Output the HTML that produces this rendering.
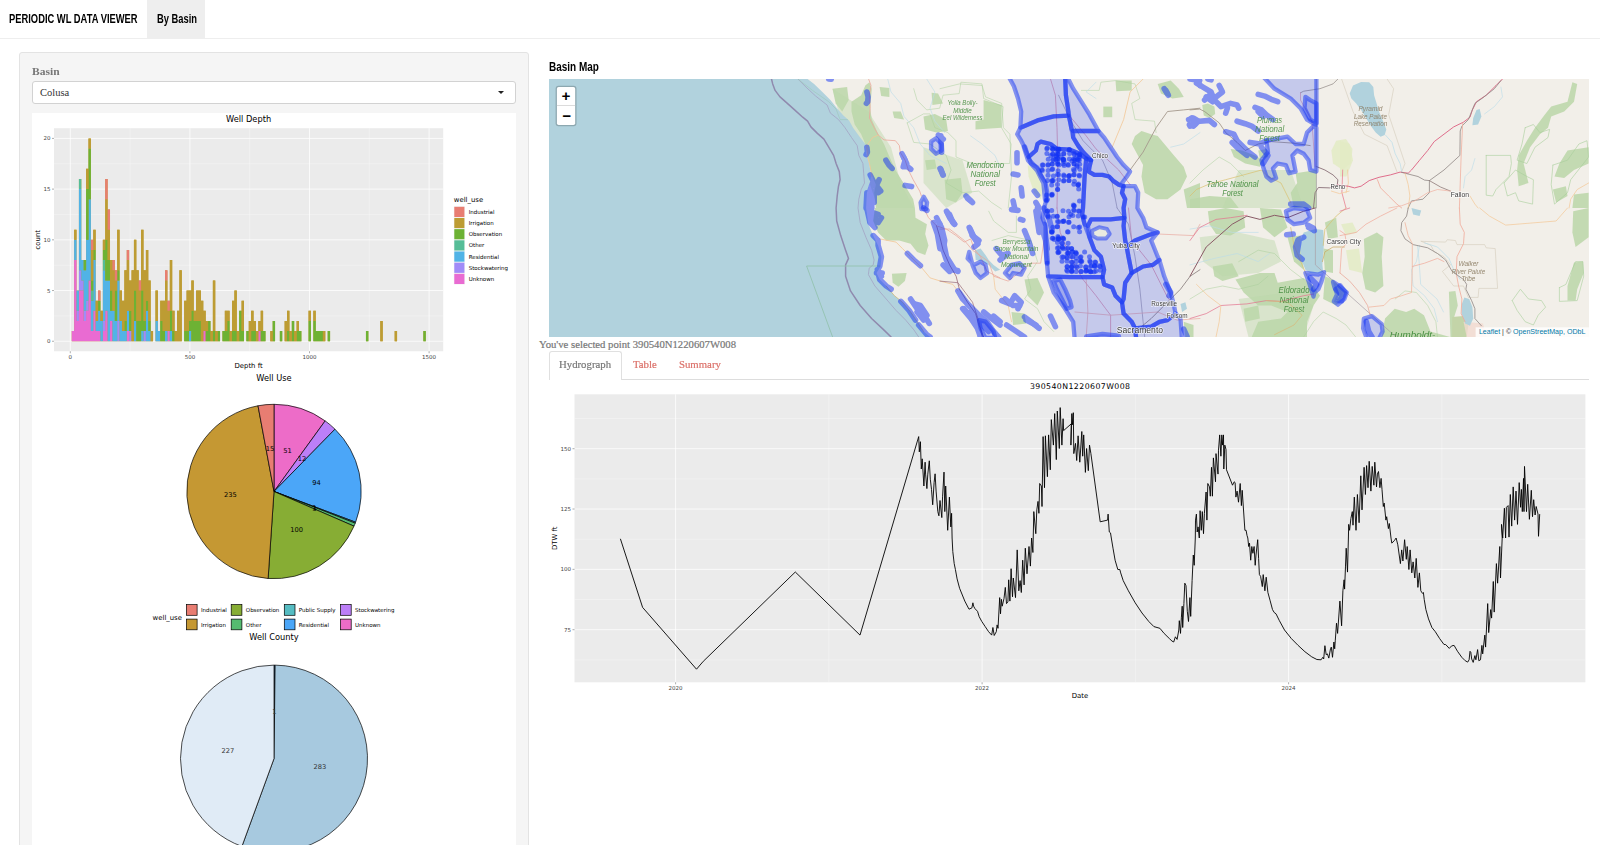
<!DOCTYPE html>
<html lang="en">
<head>
<meta charset="utf-8">
<title>Periodic WL Data Viewer</title>
<style>
html,body{margin:0;padding:0;}
body{width:1600px;height:845px;overflow:hidden;background:#fff;position:relative;
  font-family:"Liberation Serif",Georgia,serif;font-size:10px;color:#777;}
.abs{position:absolute;}
.cond{font-family:"Liberation Sans",Arial,sans-serif;font-weight:bold;color:#000;white-space:nowrap;transform-origin:0 50%;}
#navbar{left:0;top:0;width:1600px;height:38px;background:#fff;border-bottom:1px solid #eee;}
#navactive{left:147px;top:0;width:58px;height:38px;background:#eee;}
#brand{left:9px;top:11.4px;font-size:12px;line-height:16px;transform:scaleX(.78);}
#navlink{left:156.5px;top:11.4px;font-size:12px;line-height:16px;transform:scaleX(.78);}
#well{left:19px;top:52px;width:508px;height:820px;background:#f5f5f5;border:1px solid #e3e3e3;border-radius:3px;}
#lbl{left:32px;top:66px;font-weight:bold;font-size:10.5px;line-height:12px;color:#777;transform:scaleX(1.1);transform-origin:0 50%;}
#sel{left:32px;top:81px;width:482px;height:21px;background:#fff;border:1px solid #d2d2d2;border-radius:3px;}
#selv{left:40px;top:87px;font-size:10.5px;line-height:12px;color:#333;}
#caret{left:498px;top:91px;width:0;height:0;border-left:3px solid transparent;border-right:3px solid transparent;border-top:3px solid #222;}
#lplot{left:32px;top:113px;width:484px;height:732px;background:#fff;}
#h4{left:549px;top:58.6px;font-size:12px;line-height:16px;transform:scaleX(.83);}
#map{left:549px;top:79px;width:1040px;height:258px;background:#b2d2dd;overflow:hidden;}
#seltxt{left:539px;top:337.7px;font-size:10.7px;-webkit-text-stroke:0.2px #777;line-height:12px;color:#777;white-space:nowrap;}
#tabline{left:549px;top:379px;width:1040px;height:1px;background:#ddd;}
#tab1{left:549px;top:351px;width:73px;height:29px;border:1px solid #e0e0e0;border-bottom:none;border-radius:3px 3px 0 0;background:#fff;box-sizing:border-box;}
.tabt{font-size:11.4px;line-height:12px;white-space:nowrap;-webkit-text-stroke:0.2px currentColor;transform:scaleX(.945);transform-origin:0 50%;}
#rplot{left:549px;top:380px;width:1040px;height:330px;background:#fff;}
</style>
</head>
<body>
<div id="navbar" class="abs"></div>
<div id="navactive" class="abs"></div>
<div id="brand" class="abs cond">PERIODIC WL DATA VIEWER</div>
<div id="navlink" class="abs cond">By Basin</div>

<div id="well" class="abs"></div>
<div id="lbl" class="abs">Basin</div>
<div id="sel" class="abs"></div>
<div id="selv" class="abs">Colusa</div>
<div id="caret" class="abs"></div>
<div id="lplot" class="abs">
<svg width="484" height="732" viewBox="32 113 484 732" style="display:block" font-family="DejaVu Sans, Liberation Sans, sans-serif">
<rect x="32" y="113" width="484" height="732" fill="#fff"/>
<rect x="54.00" y="128.20" width="389.20" height="223.05" fill="#ebebeb"/>
<line x1="54.00" x2="443.20" y1="315.89" y2="315.89" stroke="#fff" stroke-opacity="0.75" stroke-width="0.4"/>
<line x1="54.00" x2="443.20" y1="265.19" y2="265.19" stroke="#fff" stroke-opacity="0.75" stroke-width="0.4"/>
<line x1="54.00" x2="443.20" y1="214.48" y2="214.48" stroke="#fff" stroke-opacity="0.75" stroke-width="0.4"/>
<line x1="54.00" x2="443.20" y1="163.77" y2="163.77" stroke="#fff" stroke-opacity="0.75" stroke-width="0.4"/>
<line x1="130.10" x2="130.10" y1="128.20" y2="351.25" stroke="#fff" stroke-opacity="0.75" stroke-width="0.4"/>
<line x1="249.70" x2="249.70" y1="128.20" y2="351.25" stroke="#fff" stroke-opacity="0.75" stroke-width="0.4"/>
<line x1="369.30" x2="369.30" y1="128.20" y2="351.25" stroke="#fff" stroke-opacity="0.75" stroke-width="0.4"/>
<line x1="54.00" x2="443.20" y1="341.25" y2="341.25" stroke="#fff" stroke-width="0.75"/>
<line x1="52.00" x2="54.00" y1="341.25" y2="341.25" stroke="#333" stroke-width="0.4"/>
<text x="50.60" y="343.25" font-size="5.50" text-anchor="end" fill="#444444" >0</text>
<line x1="54.00" x2="443.20" y1="290.54" y2="290.54" stroke="#fff" stroke-width="0.75"/>
<line x1="52.00" x2="54.00" y1="290.54" y2="290.54" stroke="#333" stroke-width="0.4"/>
<text x="50.60" y="292.54" font-size="5.50" text-anchor="end" fill="#444444" >5</text>
<line x1="54.00" x2="443.20" y1="239.83" y2="239.83" stroke="#fff" stroke-width="0.75"/>
<line x1="52.00" x2="54.00" y1="239.83" y2="239.83" stroke="#333" stroke-width="0.4"/>
<text x="50.60" y="241.83" font-size="5.50" text-anchor="end" fill="#444444" >10</text>
<line x1="54.00" x2="443.20" y1="189.12" y2="189.12" stroke="#fff" stroke-width="0.75"/>
<line x1="52.00" x2="54.00" y1="189.12" y2="189.12" stroke="#333" stroke-width="0.4"/>
<text x="50.60" y="191.12" font-size="5.50" text-anchor="end" fill="#444444" >15</text>
<line x1="54.00" x2="443.20" y1="138.41" y2="138.41" stroke="#fff" stroke-width="0.75"/>
<line x1="52.00" x2="54.00" y1="138.41" y2="138.41" stroke="#333" stroke-width="0.4"/>
<text x="50.60" y="140.41" font-size="5.50" text-anchor="end" fill="#444444" >20</text>
<line x1="70.30" x2="70.30" y1="128.20" y2="351.25" stroke="#fff" stroke-width="0.75"/>
<line x1="70.30" x2="70.30" y1="351.25" y2="353.25" stroke="#333" stroke-width="0.4"/>
<text x="70.30" y="358.95" font-size="5.50" text-anchor="middle" fill="#444444" >0</text>
<line x1="189.90" x2="189.90" y1="128.20" y2="351.25" stroke="#fff" stroke-width="0.75"/>
<line x1="189.90" x2="189.90" y1="351.25" y2="353.25" stroke="#333" stroke-width="0.4"/>
<text x="189.90" y="358.95" font-size="5.50" text-anchor="middle" fill="#444444" >500</text>
<line x1="309.50" x2="309.50" y1="128.20" y2="351.25" stroke="#fff" stroke-width="0.75"/>
<line x1="309.50" x2="309.50" y1="351.25" y2="353.25" stroke="#333" stroke-width="0.4"/>
<text x="309.50" y="358.95" font-size="5.50" text-anchor="middle" fill="#444444" >1000</text>
<line x1="429.10" x2="429.10" y1="128.20" y2="351.25" stroke="#fff" stroke-width="0.75"/>
<line x1="429.10" x2="429.10" y1="351.25" y2="353.25" stroke="#333" stroke-width="0.4"/>
<text x="429.10" y="358.95" font-size="5.50" text-anchor="middle" fill="#444444" >1500</text>
<path d="M71.75 331.11h2.39v10.14h-2.39zM74.14 229.69h2.39v111.56h-2.39zM76.53 290.54h2.39v50.71h-2.39zM78.92 178.98h2.39v162.27h-2.39zM81.31 260.11h2.39v81.14h-2.39zM83.71 260.11h2.39v81.14h-2.39zM86.10 168.84h2.39v172.41h-2.39zM88.49 138.41h2.39v202.84h-2.39zM90.88 239.83h2.39v101.42h-2.39zM93.27 229.69h2.39v111.56h-2.39zM95.67 300.68h2.39v40.57h-2.39zM98.06 290.54h2.39v50.71h-2.39zM100.45 310.82h2.39v30.43h-2.39zM102.84 239.83h2.39v101.42h-2.39zM105.23 178.98h2.39v162.27h-2.39zM107.63 209.40h2.39v131.85h-2.39zM110.02 260.11h2.39v81.14h-2.39zM112.41 260.11h2.39v81.14h-2.39zM114.80 270.26h2.39v70.99h-2.39zM117.19 229.69h2.39v111.56h-2.39zM119.59 290.54h2.39v50.71h-2.39zM121.98 300.68h2.39v40.57h-2.39zM124.37 270.26h2.39v70.99h-2.39zM126.76 249.97h2.39v91.28h-2.39zM129.15 280.40h2.39v60.85h-2.39zM131.55 270.26h2.39v70.99h-2.39zM133.94 239.83h2.39v101.42h-2.39zM136.33 270.26h2.39v70.99h-2.39zM138.72 280.40h2.39v60.85h-2.39zM141.11 229.69h2.39v111.56h-2.39zM143.51 270.26h2.39v70.99h-2.39zM145.90 249.97h2.39v91.28h-2.39zM148.29 280.40h2.39v60.85h-2.39zM150.68 331.11h2.39v10.14h-2.39zM155.47 290.54h2.39v50.71h-2.39zM157.86 331.11h2.39v10.14h-2.39zM160.25 300.68h2.39v40.57h-2.39zM162.64 300.68h2.39v40.57h-2.39zM165.03 270.26h2.39v70.99h-2.39zM167.43 300.68h2.39v40.57h-2.39zM169.82 260.11h2.39v81.14h-2.39zM172.21 310.82h2.39v30.43h-2.39zM174.60 331.11h2.39v10.14h-2.39zM176.99 310.82h2.39v30.43h-2.39zM179.39 270.26h2.39v70.99h-2.39zM184.17 300.68h2.39v40.57h-2.39zM186.56 290.54h2.39v50.71h-2.39zM188.95 290.54h2.39v50.71h-2.39zM191.35 280.40h2.39v60.85h-2.39zM193.74 310.82h2.39v30.43h-2.39zM196.13 290.54h2.39v50.71h-2.39zM198.52 290.54h2.39v50.71h-2.39zM200.91 300.68h2.39v40.57h-2.39zM203.31 310.82h2.39v30.43h-2.39zM205.70 320.97h2.39v20.28h-2.39zM208.09 320.97h2.39v20.28h-2.39zM210.48 331.11h2.39v10.14h-2.39zM212.87 280.40h2.39v60.85h-2.39zM215.27 331.11h2.39v10.14h-2.39zM217.66 331.11h2.39v10.14h-2.39zM222.44 331.11h2.39v10.14h-2.39zM224.83 310.82h2.39v30.43h-2.39zM227.23 310.82h2.39v30.43h-2.39zM229.62 331.11h2.39v10.14h-2.39zM232.01 300.68h2.39v40.57h-2.39zM234.40 290.54h2.39v50.71h-2.39zM236.79 331.11h2.39v10.14h-2.39zM239.19 310.82h2.39v30.43h-2.39zM241.58 300.68h2.39v40.57h-2.39zM246.36 331.11h2.39v10.14h-2.39zM248.75 320.97h2.39v20.28h-2.39zM251.15 310.82h2.39v30.43h-2.39zM253.54 320.97h2.39v20.28h-2.39zM255.93 331.11h2.39v10.14h-2.39zM258.32 320.97h2.39v20.28h-2.39zM260.71 310.82h2.39v30.43h-2.39zM263.11 331.11h2.39v10.14h-2.39zM270.28 331.11h2.39v10.14h-2.39zM272.67 320.97h2.39v20.28h-2.39zM279.85 331.11h2.39v10.14h-2.39zM284.63 320.97h2.39v20.28h-2.39zM287.03 310.82h2.39v30.43h-2.39zM289.42 331.11h2.39v10.14h-2.39zM291.81 320.97h2.39v20.28h-2.39zM294.20 331.11h2.39v10.14h-2.39zM296.59 320.97h2.39v20.28h-2.39zM298.99 331.11h2.39v10.14h-2.39zM308.55 310.82h2.39v30.43h-2.39zM313.34 310.82h2.39v30.43h-2.39zM315.73 331.11h2.39v10.14h-2.39zM318.12 331.11h2.39v10.14h-2.39zM320.51 331.11h2.39v10.14h-2.39zM322.91 331.11h2.39v10.14h-2.39zM327.69 331.11h2.39v10.14h-2.39zM365.96 331.11h2.39v10.14h-2.39zM380.31 320.97h2.39v20.28h-2.39zM394.67 331.11h2.39v10.14h-2.39zM423.37 331.11h2.39v10.14h-2.39z" fill="#bd9c33"/>
<path d="M71.75 331.11h2.39v10.14h-2.39zM74.14 260.11h2.39v81.14h-2.39zM76.53 320.97h2.39v20.28h-2.39zM78.92 290.54h2.39v50.71h-2.39zM81.31 290.54h2.39v50.71h-2.39zM83.71 320.97h2.39v20.28h-2.39zM86.10 310.82h2.39v30.43h-2.39zM88.49 280.40h2.39v60.85h-2.39zM90.88 331.11h2.39v10.14h-2.39zM93.27 310.82h2.39v30.43h-2.39zM95.67 331.11h2.39v10.14h-2.39zM98.06 331.11h2.39v10.14h-2.39zM102.84 331.11h2.39v10.14h-2.39zM105.23 310.82h2.39v30.43h-2.39zM110.02 320.97h2.39v20.28h-2.39zM126.76 331.11h2.39v10.14h-2.39zM167.43 331.11h2.39v10.14h-2.39zM203.31 331.11h2.39v10.14h-2.39zM258.32 331.11h2.39v10.14h-2.39z" fill="#e96bd2"/>
<path d="M76.53 310.82h2.39v10.14h-2.39zM78.92 270.26h2.39v20.28h-2.39zM81.31 280.40h2.39v10.14h-2.39zM83.71 310.82h2.39v10.14h-2.39zM86.10 300.68h2.39v10.14h-2.39zM102.84 320.97h2.39v10.14h-2.39zM117.19 320.97h2.39v20.28h-2.39zM129.15 331.11h2.39v10.14h-2.39zM143.51 331.11h2.39v10.14h-2.39z" fill="#a18bf8"/>
<path d="M74.14 239.83h2.39v20.28h-2.39zM76.53 290.54h2.39v20.28h-2.39zM78.92 189.12h2.39v81.14h-2.39zM81.31 260.11h2.39v20.28h-2.39zM83.71 270.26h2.39v40.57h-2.39zM86.10 239.83h2.39v60.85h-2.39zM88.49 199.26h2.39v81.14h-2.39zM90.88 300.68h2.39v30.43h-2.39zM93.27 260.11h2.39v50.71h-2.39zM95.67 320.97h2.39v10.14h-2.39zM98.06 310.82h2.39v20.28h-2.39zM100.45 320.97h2.39v20.28h-2.39zM102.84 270.26h2.39v50.71h-2.39zM105.23 280.40h2.39v30.43h-2.39zM107.63 280.40h2.39v60.85h-2.39zM110.02 310.82h2.39v10.14h-2.39zM112.41 310.82h2.39v30.43h-2.39zM114.80 320.97h2.39v20.28h-2.39zM117.19 280.40h2.39v40.57h-2.39zM119.59 320.97h2.39v20.28h-2.39zM121.98 331.11h2.39v10.14h-2.39zM124.37 331.11h2.39v10.14h-2.39zM126.76 310.82h2.39v20.28h-2.39zM133.94 320.97h2.39v20.28h-2.39zM141.11 331.11h2.39v10.14h-2.39zM145.90 310.82h2.39v30.43h-2.39zM148.29 331.11h2.39v10.14h-2.39zM155.47 320.97h2.39v20.28h-2.39zM157.86 331.11h2.39v10.14h-2.39zM165.03 331.11h2.39v10.14h-2.39zM169.82 331.11h2.39v10.14h-2.39zM188.95 331.11h2.39v10.14h-2.39z" fill="#51b3e6"/>
<path d="M78.92 178.98h2.39v10.14h-2.39zM90.88 290.54h2.39v10.14h-2.39zM102.84 260.11h2.39v10.14h-2.39z" fill="#56bd97"/>
<path d="M83.71 260.11h2.39v10.14h-2.39zM86.10 189.12h2.39v50.71h-2.39zM88.49 148.55h2.39v50.71h-2.39zM90.88 280.40h2.39v10.14h-2.39zM93.27 249.97h2.39v10.14h-2.39zM98.06 300.68h2.39v10.14h-2.39zM102.84 249.97h2.39v10.14h-2.39zM105.23 239.83h2.39v40.57h-2.39zM107.63 260.11h2.39v20.28h-2.39zM110.02 290.54h2.39v20.28h-2.39zM114.80 290.54h2.39v30.43h-2.39zM117.19 270.26h2.39v10.14h-2.39zM124.37 320.97h2.39v10.14h-2.39zM129.15 310.82h2.39v20.28h-2.39zM133.94 290.54h2.39v30.43h-2.39zM136.33 320.97h2.39v20.28h-2.39zM138.72 320.97h2.39v20.28h-2.39zM141.11 290.54h2.39v40.57h-2.39zM143.51 320.97h2.39v10.14h-2.39zM145.90 300.68h2.39v10.14h-2.39zM148.29 320.97h2.39v10.14h-2.39zM160.25 320.97h2.39v20.28h-2.39zM162.64 331.11h2.39v10.14h-2.39zM169.82 310.82h2.39v20.28h-2.39zM172.21 331.11h2.39v10.14h-2.39zM184.17 331.11h2.39v10.14h-2.39zM186.56 331.11h2.39v10.14h-2.39zM188.95 320.97h2.39v10.14h-2.39zM191.35 310.82h2.39v30.43h-2.39zM193.74 320.97h2.39v20.28h-2.39zM196.13 320.97h2.39v20.28h-2.39zM198.52 320.97h2.39v20.28h-2.39zM205.70 331.11h2.39v10.14h-2.39zM208.09 320.97h2.39v20.28h-2.39zM212.87 331.11h2.39v10.14h-2.39zM217.66 331.11h2.39v10.14h-2.39zM222.44 331.11h2.39v10.14h-2.39zM224.83 331.11h2.39v10.14h-2.39zM227.23 320.97h2.39v20.28h-2.39zM232.01 331.11h2.39v10.14h-2.39zM234.40 331.11h2.39v10.14h-2.39zM239.19 310.82h2.39v30.43h-2.39zM241.58 331.11h2.39v10.14h-2.39zM246.36 331.11h2.39v10.14h-2.39zM251.15 331.11h2.39v10.14h-2.39zM253.54 331.11h2.39v10.14h-2.39zM260.71 331.11h2.39v10.14h-2.39zM263.11 331.11h2.39v10.14h-2.39zM272.67 320.97h2.39v20.28h-2.39zM279.85 331.11h2.39v10.14h-2.39zM287.03 331.11h2.39v10.14h-2.39zM291.81 320.97h2.39v20.28h-2.39zM296.59 331.11h2.39v10.14h-2.39zM298.99 331.11h2.39v10.14h-2.39zM308.55 320.97h2.39v20.28h-2.39zM313.34 320.97h2.39v20.28h-2.39zM315.73 331.11h2.39v10.14h-2.39zM318.12 331.11h2.39v10.14h-2.39zM320.51 331.11h2.39v10.14h-2.39zM327.69 331.11h2.39v10.14h-2.39zM365.96 331.11h2.39v10.14h-2.39zM423.37 331.11h2.39v10.14h-2.39z" fill="#6db234"/>
<path d="M74.14 229.69h2.39v10.14h-2.39zM86.10 168.84h2.39v20.28h-2.39zM88.49 138.41h2.39v10.14h-2.39zM90.88 249.97h2.39v30.43h-2.39zM93.27 229.69h2.39v20.28h-2.39zM95.67 300.68h2.39v20.28h-2.39zM100.45 310.82h2.39v10.14h-2.39zM102.84 239.83h2.39v10.14h-2.39zM105.23 199.26h2.39v40.57h-2.39zM107.63 229.69h2.39v30.43h-2.39zM110.02 260.11h2.39v30.43h-2.39zM112.41 270.26h2.39v40.57h-2.39zM114.80 280.40h2.39v10.14h-2.39zM117.19 229.69h2.39v40.57h-2.39zM119.59 290.54h2.39v30.43h-2.39zM121.98 300.68h2.39v30.43h-2.39zM124.37 270.26h2.39v50.71h-2.39zM126.76 260.11h2.39v50.71h-2.39zM129.15 280.40h2.39v30.43h-2.39zM131.55 270.26h2.39v70.99h-2.39zM133.94 239.83h2.39v50.71h-2.39zM136.33 270.26h2.39v50.71h-2.39zM138.72 290.54h2.39v30.43h-2.39zM141.11 229.69h2.39v60.85h-2.39zM143.51 270.26h2.39v50.71h-2.39zM145.90 249.97h2.39v50.71h-2.39zM148.29 280.40h2.39v40.57h-2.39zM150.68 331.11h2.39v10.14h-2.39zM155.47 290.54h2.39v30.43h-2.39zM160.25 300.68h2.39v20.28h-2.39zM162.64 300.68h2.39v30.43h-2.39zM165.03 280.40h2.39v50.71h-2.39zM167.43 310.82h2.39v20.28h-2.39zM169.82 260.11h2.39v50.71h-2.39zM172.21 310.82h2.39v20.28h-2.39zM174.60 331.11h2.39v10.14h-2.39zM176.99 310.82h2.39v30.43h-2.39zM179.39 270.26h2.39v70.99h-2.39zM184.17 300.68h2.39v30.43h-2.39zM186.56 290.54h2.39v40.57h-2.39zM188.95 290.54h2.39v30.43h-2.39zM191.35 280.40h2.39v30.43h-2.39zM193.74 310.82h2.39v10.14h-2.39zM196.13 290.54h2.39v30.43h-2.39zM198.52 290.54h2.39v30.43h-2.39zM200.91 300.68h2.39v40.57h-2.39zM203.31 310.82h2.39v20.28h-2.39zM205.70 320.97h2.39v10.14h-2.39zM210.48 331.11h2.39v10.14h-2.39zM212.87 280.40h2.39v50.71h-2.39zM215.27 331.11h2.39v10.14h-2.39zM224.83 310.82h2.39v20.28h-2.39zM227.23 310.82h2.39v10.14h-2.39zM229.62 331.11h2.39v10.14h-2.39zM232.01 300.68h2.39v30.43h-2.39zM234.40 290.54h2.39v40.57h-2.39zM236.79 331.11h2.39v10.14h-2.39zM241.58 300.68h2.39v30.43h-2.39zM248.75 320.97h2.39v20.28h-2.39zM251.15 310.82h2.39v20.28h-2.39zM253.54 320.97h2.39v10.14h-2.39zM255.93 331.11h2.39v10.14h-2.39zM258.32 320.97h2.39v10.14h-2.39zM260.71 310.82h2.39v20.28h-2.39zM270.28 331.11h2.39v10.14h-2.39zM284.63 320.97h2.39v20.28h-2.39zM287.03 310.82h2.39v20.28h-2.39zM289.42 331.11h2.39v10.14h-2.39zM294.20 331.11h2.39v10.14h-2.39zM296.59 320.97h2.39v10.14h-2.39zM308.55 310.82h2.39v10.14h-2.39zM313.34 310.82h2.39v10.14h-2.39zM322.91 331.11h2.39v10.14h-2.39zM380.31 320.97h2.39v20.28h-2.39zM394.67 331.11h2.39v10.14h-2.39z" fill="#bd9c33"/>
<path d="M90.88 239.83h2.39v10.14h-2.39zM98.06 290.54h2.39v10.14h-2.39zM105.23 178.98h2.39v20.28h-2.39zM107.63 209.40h2.39v20.28h-2.39zM112.41 260.11h2.39v10.14h-2.39zM114.80 270.26h2.39v10.14h-2.39zM126.76 249.97h2.39v10.14h-2.39zM138.72 280.40h2.39v10.14h-2.39zM165.03 270.26h2.39v10.14h-2.39zM167.43 300.68h2.39v10.14h-2.39z" fill="#e87d72"/>
<text x="248.60" y="122.30" font-size="8.25" text-anchor="middle" fill="#000" >Well Depth</text>
<text x="248.60" y="367.60" font-size="6.90" text-anchor="middle" fill="#000" >Depth ft</text>
<text transform="translate(40.4 239.7) rotate(-90)" font-size="6.9" text-anchor="middle" fill="#000">count</text>
<text x="453.80" y="202.20" font-size="6.90" text-anchor="start" fill="#000" >well_use</text>
<rect x="453.8" y="206.30" width="11.1" height="11.17" fill="#f2f2f2"/>
<rect x="454.3" y="206.80" width="10.1" height="10.2" fill="#e87d72"/>
<text x="468.70" y="213.90" font-size="5.50" text-anchor="start" fill="#000" >Industrial</text>
<rect x="453.8" y="217.47" width="11.1" height="11.17" fill="#f2f2f2"/>
<rect x="454.3" y="217.97" width="10.1" height="10.2" fill="#bd9c33"/>
<text x="468.70" y="225.07" font-size="5.50" text-anchor="start" fill="#000" >Irrigation</text>
<rect x="453.8" y="228.64" width="11.1" height="11.17" fill="#f2f2f2"/>
<rect x="454.3" y="229.14" width="10.1" height="10.2" fill="#6db234"/>
<text x="468.70" y="236.24" font-size="5.50" text-anchor="start" fill="#000" >Observation</text>
<rect x="453.8" y="239.81" width="11.1" height="11.17" fill="#f2f2f2"/>
<rect x="454.3" y="240.31" width="10.1" height="10.2" fill="#56bd97"/>
<text x="468.70" y="247.41" font-size="5.50" text-anchor="start" fill="#000" >Other</text>
<rect x="453.8" y="250.98" width="11.1" height="11.17" fill="#f2f2f2"/>
<rect x="454.3" y="251.48" width="10.1" height="10.2" fill="#51b3e6"/>
<text x="468.70" y="258.58" font-size="5.50" text-anchor="start" fill="#000" >Residential</text>
<rect x="453.8" y="262.15" width="11.1" height="11.17" fill="#f2f2f2"/>
<rect x="454.3" y="262.65" width="10.1" height="10.2" fill="#a18bf8"/>
<text x="468.70" y="269.75" font-size="5.50" text-anchor="start" fill="#000" >Stockwatering</text>
<rect x="453.8" y="273.32" width="11.1" height="11.17" fill="#f2f2f2"/>
<rect x="454.3" y="273.82" width="10.1" height="10.2" fill="#e96bd2"/>
<text x="468.70" y="280.92" font-size="5.50" text-anchor="start" fill="#000" >Unknown</text>
<text x="274.00" y="380.90" font-size="8.25" text-anchor="middle" fill="#000" >Well Use</text>
<path d="M274.00 491.50 L274.00 404.30 A87.20 87.20 0 0 1 325.17 420.89 Z" fill="#ed6cc8" stroke="#000" stroke-width="0.7" stroke-linejoin="round"/>
<path d="M274.00 491.50 L325.17 420.89 A87.20 87.20 0 0 1 334.99 429.18 Z" fill="#bc7ff8" stroke="#000" stroke-width="0.7" stroke-linejoin="round"/>
<path d="M274.00 491.50 L334.99 429.18 A87.20 87.20 0 0 1 355.62 522.19 Z" fill="#4ba6f8" stroke="#000" stroke-width="0.7" stroke-linejoin="round"/>
<path d="M274.00 491.50 L355.62 522.19 A87.20 87.20 0 0 1 355.24 523.19 Z" fill="#56bcc2" stroke="#000" stroke-width="0.7" stroke-linejoin="round"/>
<path d="M274.00 491.50 L355.24 523.19 A87.20 87.20 0 0 1 354.01 526.17 Z" fill="#55bb70" stroke="#000" stroke-width="0.7" stroke-linejoin="round"/>
<path d="M274.00 491.50 L354.01 526.17 A87.20 87.20 0 0 1 268.11 578.50 Z" fill="#87ad34" stroke="#000" stroke-width="0.7" stroke-linejoin="round"/>
<path d="M274.00 491.50 L268.11 578.50 A87.20 87.20 0 0 1 258.01 405.78 Z" fill="#c59833" stroke="#000" stroke-width="0.7" stroke-linejoin="round"/>
<path d="M274.00 491.50 L258.01 405.78 A87.20 87.20 0 0 1 274.00 404.30 Z" fill="#e87d72" stroke="#000" stroke-width="0.7" stroke-linejoin="round"/>
<text x="287.45" y="453.23" font-size="6.70" text-anchor="middle" fill="#000" >51</text>
<text x="302.12" y="461.38" font-size="6.70" text-anchor="middle" fill="#000" >12</text>
<text x="316.57" y="485.26" font-size="6.70" text-anchor="middle" fill="#000" >94</text>
<text x="314.72" y="510.30" font-size="6.70" text-anchor="middle" fill="#000" >1</text>
<text x="314.32" y="511.29" font-size="6.70" text-anchor="middle" fill="#000" >3</text>
<text x="296.68" y="531.93" font-size="6.70" text-anchor="middle" fill="#000" >100</text>
<text x="230.47" y="497.25" font-size="6.70" text-anchor="middle" fill="#000" >235</text>
<text x="269.98" y="451.29" font-size="6.70" text-anchor="middle" fill="#000" >15</text>
<text x="152.60" y="620.30" font-size="6.90" text-anchor="start" fill="#000" >well_use</text>
<rect x="186.40" y="604.60" width="10.7" height="10.7" fill="#e87d72" stroke="#000" stroke-width="0.7"/>
<text x="201.00" y="612.00" font-size="5.50" text-anchor="start" fill="#000" >Industrial</text>
<rect x="186.40" y="619.10" width="10.7" height="10.7" fill="#c59833" stroke="#000" stroke-width="0.7"/>
<text x="201.00" y="626.50" font-size="5.50" text-anchor="start" fill="#000" >Irrigation</text>
<rect x="231.20" y="604.60" width="10.7" height="10.7" fill="#87ad34" stroke="#000" stroke-width="0.7"/>
<text x="245.80" y="612.00" font-size="5.50" text-anchor="start" fill="#000" >Observation</text>
<rect x="231.20" y="619.10" width="10.7" height="10.7" fill="#55bb70" stroke="#000" stroke-width="0.7"/>
<text x="245.80" y="626.50" font-size="5.50" text-anchor="start" fill="#000" >Other</text>
<rect x="284.30" y="604.60" width="10.7" height="10.7" fill="#56bcc2" stroke="#000" stroke-width="0.7"/>
<text x="298.70" y="612.00" font-size="5.50" text-anchor="start" fill="#000" >Public Supply</text>
<rect x="284.30" y="619.10" width="10.7" height="10.7" fill="#4ba6f8" stroke="#000" stroke-width="0.7"/>
<text x="298.70" y="626.50" font-size="5.50" text-anchor="start" fill="#000" >Residential</text>
<rect x="340.50" y="604.60" width="10.7" height="10.7" fill="#bc7ff8" stroke="#000" stroke-width="0.7"/>
<text x="355.00" y="612.00" font-size="5.50" text-anchor="start" fill="#000" >Stockwatering</text>
<rect x="340.50" y="619.10" width="10.7" height="10.7" fill="#ed6cc8" stroke="#000" stroke-width="0.7"/>
<text x="355.00" y="626.50" font-size="5.50" text-anchor="start" fill="#000" >Unknown</text>
<text x="274.00" y="639.60" font-size="8.25" text-anchor="middle" fill="#000" >Well County</text>
<path d="M274.00 758.60 L274.00 665.10 A93.50 93.50 0 0 1 275.15 665.11 Z" fill="#4880b8" stroke="#000" stroke-width="0.7" stroke-linejoin="round"/>
<path d="M274.00 758.60 L275.15 665.11 A93.50 93.50 0 1 1 241.90 846.42 Z" fill="#a7c9df" stroke="#000" stroke-width="0.7" stroke-linejoin="round"/>
<path d="M274.00 758.60 L241.90 846.42 A93.50 93.50 0 0 1 274.00 665.10 Z" fill="#e0ebf6" stroke="#000" stroke-width="0.7" stroke-linejoin="round"/>
<text x="274.29" y="714.25" font-size="6.70" text-anchor="middle" fill="#333" >1</text>
<text x="319.98" y="769.43" font-size="6.70" text-anchor="middle" fill="#333" >283</text>
<text x="227.97" y="752.85" font-size="6.70" text-anchor="middle" fill="#333" >227</text>
</svg>
</div>

<div id="h4" class="abs cond">Basin Map</div>
<div id="map" class="abs">
<svg width="1040" height="258" viewBox="0 0 1040 258" style="display:block" font-family="Liberation Sans, Arial, sans-serif">
<defs><filter id="soft" x="-2%" y="-5%" width="104%" height="110%"><feGaussianBlur stdDeviation="0.45"/></filter></defs>
<g filter="url(#soft)">
<rect x="0" y="0" width="1040" height="258" fill="#f2efe9"/>
<path d="M302.5 22.7 L312.2 16.2 L316.3 6.5 L320.4 3.2 L322.8 9.7 L321.2 29.2 L322.8 40.6 L328.5 53.6 L335.0 65.0 L339.9 76.4 L346.4 91.0 L354.5 104.0 L364.2 120.2 L365.9 129.0 L366.5 138.7 L377.9 145.2 L376.2 155.0 L379.5 166.4 L376.2 176.1 L368.1 172.9 L361.6 164.7 L350.2 161.5 L337.2 161.5 L329.1 153.4 L324.2 142.0 L325.9 129.0 L326.9 129.0 L325.2 113.7 L326.9 105.6 L322.0 94.2 L318.7 78.0 L316.3 65.0 L312.2 55.2 L305.7 45.5 L302.5 32.5Z" fill="#bbd6a8" opacity="0.85"/>
<path d="M342.9 194.8 L357.6 194.0 L355.9 202.1 L349.4 207.8 L343.7 203.7Z" fill="#bbd6a8" opacity="0.85"/>
<path d="M434.6 21.1 L452.5 26.0 L452.5 48.7 L426.5 50.4 L426.5 42.2 L434.6 40.6Z" fill="#bbd6a8" opacity="0.85"/>
<path d="M374.5 37.4 L385.9 34.9 L397.2 40.6 L398.9 52.0 L387.5 53.6 L376.1 50.4Z" fill="#bbd6a8" opacity="0.85"/>
<path d="M395.6 100.7 L411.9 99.1 L413.5 113.7 L407.0 123.5 L397.2 120.2Z" fill="#bbd6a8" opacity="0.85"/>
<path d="M376.1 81.2 L385.9 80.4 L387.5 89.4 L377.7 91.0Z" fill="#bbd6a8" opacity="0.85"/>
<path d="M382.6 13.8 L389.1 14.6 L394.0 24.4 L383.4 26.0Z" fill="#bbd6a8" opacity="0.85"/>
<path d="M330.6 8.1 L340.4 8.9 L340.4 17.9 L332.2 17.1Z" fill="#bbd6a8" opacity="0.85"/>
<path d="M343.6 32.5 L351.7 32.5 L355.0 40.6 L345.2 39.0Z" fill="#bbd6a8" opacity="0.85"/>
<path d="M283.5 9.7 L298.1 8.1 L299.7 21.1 L293.2 32.5 L286.7 24.4Z" fill="#bbd6a8" opacity="0.85"/>
<path d="M602.2 55.2 L608.7 56.9 L625.0 76.4 L634.7 87.7 L638.0 97.5 L631.5 110.5 L618.5 120.2 L607.1 120.2 L595.7 113.7 L592.5 97.5 L594.1 86.1 L582.7 65.0 L586.0 56.9 L592.5 52.0Z" fill="#bbd6a8" opacity="0.85"/>
<path d="M566.5 1.6 L582.7 1.6 L582.7 11.4 L567.3 12.2Z" fill="#bbd6a8" opacity="0.85"/>
<path d="M554.3 27.6 L563.2 27.6 L563.2 38.2 L554.3 38.2Z" fill="#bbd6a8" opacity="0.85"/>
<path d="M608.7 4.9 L621.7 1.6 L629.9 9.7 L634.7 17.9 L623.4 19.5 L612.0 14.6Z" fill="#bbd6a8" opacity="0.85"/>
<path d="M634.7 110.5 L651.0 104.0 L651.0 129.0 L638.0 129.0Z" fill="#bbd6a8" opacity="0.85"/>
<path d="M462.5 233.0 L475.5 234.6 L477.1 244.4 L464.1 246.0Z" fill="#bbd6a8" opacity="0.85"/>
<path d="M634.7 242.7 L644.5 246.0 L644.5 258.0 L636.4 258.0Z" fill="#bbd6a8" opacity="0.85"/>
<path d="M475.5 200.5 L488.5 198.9 L495.0 213.5 L488.5 226.5 L478.7 216.7Z" fill="#bbd6a8" opacity="0.85"/>
<path d="M653.2 26.0 L658.9 24.4 L665.4 27.6 L666.2 34.9 L660.5 39.0 L654.8 36.6Z" fill="#bbd6a8" opacity="0.85"/>
<path d="M681.6 69.9 L693.0 71.5 L706.0 76.4 L714.1 81.2 L710.9 87.7 L696.2 84.5 L684.9 78.0Z" fill="#bbd6a8" opacity="0.85"/>
<path d="M746.6 94.2 L767.7 91.0 L767.7 129.0 L745.0 129.0 L741.7 113.7 L748.2 104.0Z" fill="#bbd6a8" opacity="0.85"/>
<path d="M641.0 120.2 L660.5 117.0 L681.6 118.6 L689.7 129.0 L641.0 129.0Z" fill="#bbd6a8" opacity="0.85"/>
<path d="M709.2 71.5 L717.4 69.9 L719.0 78.0 L710.9 79.6Z" fill="#bbd6a8" opacity="0.85"/>
<path d="M658.9 132.2 L676.7 129.0 L694.6 132.2 L696.2 148.5 L681.6 156.6 L667.0 155.0 L660.5 145.2Z" fill="#bbd6a8" opacity="0.85"/>
<path d="M710.9 129.0 L732.0 130.6 L738.5 148.5 L725.5 158.2 L714.1 148.5Z" fill="#bbd6a8" opacity="0.85"/>
<path d="M686.5 200.5 L710.9 194.0 L725.5 194.0 L728.7 203.7 L754.7 198.9 L764.5 207.0 L771.0 216.7 L764.5 226.5 L758.0 242.7 L758.0 258.0 L702.7 258.0 L709.2 242.7 L732.0 239.5 L738.5 233.0 L722.2 226.5 L709.2 226.5 L694.6 213.5Z" fill="#bbd6a8" opacity="0.85"/>
<path d="M663.7 187.5 L683.2 184.2 L689.7 197.2 L673.5 202.1 L665.4 197.2Z" fill="#bbd6a8" opacity="0.85"/>
<path d="M738.5 158.2 L751.5 156.6 L754.7 190.7 L745.0 182.6Z" fill="#bbd6a8" opacity="0.85"/>
<path d="M774.2 169.6 L784.0 171.2 L784.0 194.0 L775.9 192.4Z" fill="#bbd6a8" opacity="0.85"/>
<path d="M775.9 143.6 L787.2 138.7 L788.9 158.2 L779.1 159.9Z" fill="#bbd6a8" opacity="0.85"/>
<path d="M775.9 197.2 L784.0 200.5 L797.0 213.5 L787.2 226.5 L774.2 220.0Z" fill="#bbd6a8" opacity="0.85"/>
<path d="M814.9 159.9 L827.9 153.4 L834.4 158.2 L832.7 177.7 L834.4 207.0 L826.2 213.5 L816.5 210.2 L813.2 194.0 L815.7 177.7Z" fill="#bbd6a8" opacity="0.85"/>
<path d="M836.0 239.5 L845.7 229.7 L857.1 233.0 L865.2 229.7 L875.0 236.2 L881.5 252.5 L901.0 258.0 L832.7 258.0Z" fill="#bbd6a8" opacity="0.85"/>
<path d="M694.6 229.7 L709.2 226.5 L710.9 239.5 L696.2 242.7Z" fill="#bbd6a8" opacity="0.85"/>
<path d="M899.9 212.7 L906.4 211.9 L908.8 226.5 L904.7 239.5 L914.5 258.0 L901.5 258.0 L900.7 236.2Z" fill="#bbd6a8" opacity="0.85"/>
<path d="M1024.2 132.2 L1039.6 129.0 L1039.6 158.2 L1026.6 168.0 L1023.4 153.4Z" fill="#bbd6a8" opacity="0.85"/>
<path d="M1025.0 183.4 L1033.9 182.6 L1034.7 194.0 L1028.2 210.2 L1026.6 221.6 L1018.5 221.6 L1018.5 207.0Z" fill="#bbd6a8" opacity="0.85"/>
<path d="M1023.4 3.2 L1028.2 4.9 L1025.0 22.7 L1015.2 32.5 L1002.2 37.4 L999.0 48.7 L990.9 55.2 L981.1 68.2 L974.6 84.5 L979.5 104.0 L969.7 107.2 L968.1 91.0 L969.7 76.4 L977.9 61.7 L986.0 48.7 L995.7 35.7 L1002.2 27.6 L1018.5 22.7Z" fill="#bbd6a8" opacity="0.85"/>
<path d="M1018.5 71.5 L1039.6 68.2 L1039.6 84.5 L1025.0 91.0 L1015.2 99.1 L1005.5 97.5 L1010.4 84.5Z" fill="#bbd6a8" opacity="0.85"/>
<path d="M1003.9 110.5 L1016.9 107.2 L1018.5 117.0 L1007.1 123.5Z" fill="#bbd6a8" opacity="0.85"/>
<path d="M1025.0 115.4 L1039.6 113.7 L1039.6 129.0 L1023.4 129.0Z" fill="#bbd6a8" opacity="0.85"/>
<path d="M650.7 158.2 L689.7 153.4 L725.5 161.5 L732.0 182.6 L709.2 194.0 L673.5 197.2 L654.0 182.6Z" fill="#bbd6a8" opacity="0.45"/>
<path d="M689.7 220.0 L738.5 213.5 L764.5 226.5 L754.7 258.0 L699.5 258.0Z" fill="#bbd6a8" opacity="0.45"/>
<path d="M689.7 91.0 L741.7 91.0 L754.7 129.0 L673.5 129.0Z" fill="#bbd6a8" opacity="0.45"/>
<path d="M283.5 9.7 L319.2 32.5 L342.0 68.2 L351.7 104.0 L364.7 129.0 L329.0 129.0 L316.0 91.0 L299.7 68.2 L291.6 40.6Z" fill="#bbd6a8" opacity="0.45"/>
<path d="M374.5 68.2 L413.5 81.2 L423.2 113.7 L397.2 129.0 L374.5 104.0Z" fill="#bbd6a8" opacity="0.45"/>
<path d="M787.2 61.7 L797.0 60.1 L803.5 69.9 L801.9 84.5 L793.7 91.0 L784.0 84.5 L782.4 71.5Z" fill="#e3ebc4" opacity="0.85"/>
<path d="M792.1 145.2 L803.5 143.6 L808.4 153.4 L797.0 156.6Z" fill="#e3ebc4" opacity="0.85"/>
<path d="M797.0 171.2 L810.0 169.6 L813.2 194.0 L800.2 190.7Z" fill="#e3ebc4" opacity="0.85"/>
<path d="M791.0 61.7 L800.7 65.0 L804.0 81.2 L797.5 97.5 L791.0 97.5Z" fill="#e3ebc4" opacity="0.85"/>
<path d="M478.7 86.1 L488.5 91.0 L495.0 110.5 L491.7 120.2 L485.2 113.7 L479.6 97.5Z" fill="#e3ebc4" opacity="0.85"/>
<path d="M0.0 0.0 L258.6 0.0 L265.1 4.9 L274.9 14.6 L281.4 21.1 L287.9 29.2 L294.4 36.6 L300.1 41.4 L304.1 48.7 L310.6 57.7 L316.3 65.0 L317.1 74.7 L319.6 81.2 L321.2 91.0 L322.0 97.5 L320.4 105.6 L317.9 113.7 L317.1 129.0 L319.4 145.2 L324.2 156.6 L329.1 166.4 L332.4 177.7 L331.6 187.5 L327.5 194.0 L330.7 200.5 L337.2 207.0 L345.4 216.7 L353.5 223.2 L361.6 233.0 L368.1 242.7 L374.6 252.5 L381.1 258.0 L381.1 258.0 L0.0 258.0Z" fill="#b1d2dd" />
<path d="M800.7 14.6 L804.0 6.5 L812.1 2.9 L820.2 3.2 L824.3 8.1 L825.1 16.2 L827.6 24.4 L830.0 32.5 L834.1 42.2 L837.3 50.4 L835.7 56.1 L831.6 57.7 L826.7 53.6 L821.9 47.1 L817.0 39.0 L812.1 30.9 L807.2 24.4 L802.4 19.5Z" fill="#b1d2dd" />
<path d="M754.7 153.4 L766.1 150.1 L774.2 150.9 L775.1 161.5 L774.2 174.5 L773.4 185.9 L774.2 193.2 L769.4 194.8 L761.2 194.0 L756.4 190.7 L753.1 182.6 L751.5 172.9 L750.7 163.1Z" fill="#b1d2dd" />
<path d="M903.1 237.9 L914.5 237.1 L919.4 246.0 L917.7 258.0 L903.1 258.0Z" fill="#c3d4a8" />
<path d="M914.5 242.7 L934.0 244.4 L937.2 258.0 L917.7 258.0Z" fill="#f1d9d0" opacity="0.8"/>
<path d="M915.3 218.4 L920.2 220.0 L923.4 228.1 L924.2 239.5 L921.0 246.8 L916.1 244.4 L912.5 234.6 L912.9 224.9Z" fill="#b1d2dd" />
<path d="M927.5 30.9 L930.7 30.1 L932.4 37.4 L929.1 45.5 L923.4 46.3 L924.2 39.0Z" fill="#b1d2dd" />
<path d="M425.9 171.2 L431.6 169.6 L436.5 176.1 L439.7 181.0 L444.6 185.9 L451.1 190.7 L446.2 192.4 L439.7 185.9 L433.2 182.6 L426.7 181.0Z" fill="#b1d2dd" />
<path d="M631.5 224.9 L636.4 223.2 L638.0 229.7 L633.1 233.0Z" fill="#b1d2dd" />
<path d="M862.5 129.0 L872.2 131.4 L870.6 137.1 L864.1 135.5Z" fill="#b1d2dd" />
<path d="M222.5 0.0 L223.7 4.9 L226.1 11.4 L231.0 17.9 L237.5 23.6 L245.6 30.9 L253.7 38.2 L258.6 42.2 L261.9 47.9 L268.4 54.4 L274.9 60.1 L279.7 68.2 L284.6 76.4 L287.1 84.5 L290.3 92.6 L291.1 100.7 L289.5 107.2 L288.2 117.0 L287.1 129.0 L287.7 142.0 L291.7 156.6 L296.6 171.2 L299.5 179.4 L296.6 185.9 L296.6 197.2 L301.5 211.9 L311.2 226.5 L322.6 239.5 L334.0 250.1 L342.1 258.0" fill="none" stroke="#908aae" stroke-width="1.5" stroke-linejoin="round" stroke-linecap="round" />
<path d="M248.9 0.0 L257.0 8.1 L266.7 17.1 L278.1 26.0 L281.4 34.1 L289.5 40.6 L296.0 48.7 L302.5 58.5 L308.2 66.6 L309.8 76.4 L313.9 84.5 L314.7 94.2 L315.5 104.0 L312.2 110.5 L309.8 120.2 L309.0 129.0 L311.2 143.6 L316.9 158.2 L322.6 171.2 L325.1 181.0 L324.2 185.9 L320.2 189.1 L319.4 195.6 L325.9 207.0 L337.2 220.0 L347.0 231.4 L356.7 241.1 L364.9 250.9 L369.7 258.0" fill="none" stroke="#a3a3c4" stroke-width="0.8" stroke-linejoin="round" stroke-linecap="round" />
<path d="M248.9 0.0 L263.5 11.4 L279.7 22.7 L287.1 30.1 L291.1 40.6 L298.4 40.6" fill="none" stroke="#9cc7b8" stroke-width="0.6" stroke-linejoin="round" stroke-linecap="round" />
<path d="M283.6 258.0 L257.6 187.0 L330.7 187.0" fill="none" stroke="#8fc0aa" stroke-width="0.8" stroke-linejoin="round" stroke-linecap="round" />
<path d="M767.4 0.0 L767.4 129.0" fill="none" stroke="#a9a0a8" stroke-width="0.7" stroke-linejoin="round" stroke-linecap="round" />
<path d="M766.4 129.0 L766.4 185.9 L840.9 252.5 L847.4 258.0" fill="none" stroke="#a9a0a8" stroke-width="0.7" stroke-linejoin="round" stroke-linecap="round" />
<path d="M792.6 0.0 L804.0 32.5 L815.4 55.2 L838.1 66.6 L847.9 92.6" fill="none" stroke="#d4cbbb" stroke-width="0.6" stroke-linejoin="round" stroke-linecap="round" />
<path d="M838.1 0.0 L844.6 9.7 L839.7 35.7 L856.0 84.5 L852.7 92.6" fill="none" stroke="#d4cbbb" stroke-width="0.6" stroke-linejoin="round" stroke-linecap="round" />
<path d="M872.2 162.3 L896.6 163.1 L898.2 160.7 L906.4 161.5 L908.0 165.6 L935.6 165.6 L937.2 168.8 L946.2 169.6 L947.8 197.2 L948.6 209.4 L929.9 209.4 L929.1 218.4 L919.4 218.4 L914.5 207.0 L904.7 207.0 L893.4 192.4 L901.5 185.9 L895.0 177.7 L885.2 172.9 L882.0 166.4 L872.2 162.3" fill="none" stroke="#d4cbbb" stroke-width="0.6" stroke-linejoin="round" stroke-linecap="round" />
<path d="M937.2 76.4 L961.6 76.4 L962.4 84.5 L960.0 97.5 L953.5 104.0 L947.0 110.5 L943.7 117.0 L937.2 116.2 L937.2 76.4" fill="none" stroke="#a8cf9a" stroke-width="0.6" stroke-linejoin="round" stroke-linecap="round" />
<path d="M955.1 104.0 L966.5 91.0 L977.9 97.5 L984.4 100.7 L983.6 125.1 L969.7 121.9 L966.5 113.7 L958.4 117.0 L955.1 104.0" fill="none" stroke="#a8cf9a" stroke-width="0.6" stroke-linejoin="round" stroke-linecap="round" />
<path d="M976.2 48.7 L984.4 45.5 L990.9 53.6 L1000.6 50.4 L999.0 58.5 L986.0 68.2 L977.9 84.5 L968.1 81.2 L973.0 65.0 L976.2 48.7" fill="none" stroke="#a8cf9a" stroke-width="0.6" stroke-linejoin="round" stroke-linecap="round" />
<path d="M1003.9 86.1 L1018.5 81.2 L1029.9 65.0 L1038.0 61.7 L1039.6 78.0 L1021.7 100.7 L1018.5 113.7 L1005.5 125.1 L1002.2 105.6 L1003.9 86.1" fill="none" stroke="#a8cf9a" stroke-width="0.6" stroke-linejoin="round" stroke-linecap="round" />
<path d="M963.2 221.6 L971.4 210.2 L979.5 220.0 L992.5 221.6 L996.6 228.1 L989.2 236.2 L984.4 246.0 L976.2 242.7 L968.1 231.4 L963.2 221.6" fill="none" stroke="#a8cf9a" stroke-width="0.6" stroke-linejoin="round" stroke-linecap="round" />
<path d="M1010.4 208.6 L1016.9 205.4 L1026.6 182.6 L1033.9 182.6 L1034.7 197.2 L1028.2 221.6 L1010.4 222.4 L1010.4 208.6" fill="none" stroke="#a8cf9a" stroke-width="0.6" stroke-linejoin="round" stroke-linecap="round" />
<path d="M358.2 43.9 L374.5 34.9 L381.0 34.9 L385.9 48.7 L398.9 53.6 L407.0 61.7 L407.0 78.0 L423.2 84.5 L460.6 84.5 L462.2 65.0 L452.5 48.7 L454.1 27.6 L434.6 19.5 L433.0 4.9 L411.9 3.2 L410.2 14.6 L394.0 16.2 L390.7 29.2 L377.7 30.9 L368.0 21.1 L364.7 9.7" fill="none" stroke="#a8cf9a" stroke-width="0.5" stroke-linejoin="round" stroke-linecap="round" />
<path d="M358.2 43.9 L364.7 63.4 L381.0 65.0 L397.2 76.4 L402.1 91.0 L397.2 104.0 L413.5 113.7 L429.7 112.1 L442.7 123.5 L452.5 130.0" fill="none" stroke="#a8cf9a" stroke-width="0.5" stroke-linejoin="round" stroke-linecap="round" />
<path d="M391.0 9.7 L410.5 4.9 L433.2 6.5 L436.5 17.9 L452.7 24.4 L454.4 48.7 L460.9 55.2 L462.5 97.5 L459.2 129.0" fill="none" stroke="#a8cf9a" stroke-width="0.5" stroke-linejoin="round" stroke-linecap="round" />
<path d="M532.4 11.4 L550.2 11.4 L551.9 3.2 L566.5 1.6 L586.0 4.9 L590.9 19.5 L582.7 24.4 L586.0 40.6 L605.5 42.2 L607.1 53.6" fill="none" stroke="#a8cf9a" stroke-width="0.5" stroke-linejoin="round" stroke-linecap="round" />
<path d="M439.7 132.2 L444.6 142.0 L459.2 153.4 L467.4 153.4 L467.4 137.1" fill="none" stroke="#a8cf9a" stroke-width="0.5" stroke-linejoin="round" stroke-linecap="round" />
<path d="M443.0 161.5 L459.2 156.6 L482.0 161.5 L488.5 182.6 L478.7 197.2 L482.0 210.2 L475.5 220.0 L488.5 229.7 L495.0 242.7 L504.7 252.5" fill="none" stroke="#a8cf9a" stroke-width="0.5" stroke-linejoin="round" stroke-linecap="round" />
<path d="M641.0 220.0 L657.2 210.2 L673.5 207.0 L689.7 210.2 L709.2 205.4 L719.0 197.2" fill="none" stroke="#a8cf9a" stroke-width="0.5" stroke-linejoin="round" stroke-linecap="round" />
<path d="M689.7 182.6 L709.2 171.2 L725.5 174.5 L741.7 190.7 L754.7 200.5" fill="none" stroke="#a8cf9a" stroke-width="0.5" stroke-linejoin="round" stroke-linecap="round" />
<path d="M754.7 258.0 L764.5 242.7 L774.2 233.0 L787.2 239.5 L797.0 246.0 L806.7 258.0" fill="none" stroke="#a8cf9a" stroke-width="0.5" stroke-linejoin="round" stroke-linecap="round" />
<path d="M846.2 220.0 L856.0 211.9 L867.4 213.5 L878.7 226.5 L886.9 242.7 L888.5 258.0" fill="none" stroke="#a8cf9a" stroke-width="0.5" stroke-linejoin="round" stroke-linecap="round" />
<path d="M641.0 104.0 L654.0 91.0 L670.2 78.0 L681.6 84.5 L694.6 97.5" fill="none" stroke="#a8cf9a" stroke-width="0.5" stroke-linejoin="round" stroke-linecap="round" />
<path d="M338.7 0.0 L342.0 13.0 L351.7 24.4 L355.0 37.4 L364.7 48.7 L371.2 65.0 L381.0 76.4 L397.2 84.5" fill="none" stroke="#b9dcea" stroke-width="0.6" stroke-linejoin="round" stroke-linecap="round" />
<path d="M377.7 0.0 L385.9 13.0 L381.0 29.2 L385.9 42.2 L395.6 53.6" fill="none" stroke="#b9dcea" stroke-width="0.6" stroke-linejoin="round" stroke-linecap="round" />
<path d="M421.6 56.9 L433.0 65.0 L446.0 76.4 L450.9 87.7" fill="none" stroke="#b9dcea" stroke-width="0.6" stroke-linejoin="round" stroke-linecap="round" />
<path d="M547.0 3.2 L537.2 13.0 L547.0 19.5" fill="none" stroke="#b9dcea" stroke-width="0.6" stroke-linejoin="round" stroke-linecap="round" />
<path d="M651.0 53.6 L634.7 65.0 L621.7 68.2" fill="none" stroke="#b9dcea" stroke-width="0.6" stroke-linejoin="round" stroke-linecap="round" />
<path d="M836.5 56.1 L843.0 63.4 L846.2 74.7 L851.1 84.5 L852.7 92.6" fill="none" stroke="#b9dcea" stroke-width="0.7" stroke-linejoin="round" stroke-linecap="round" />
<path d="M951.9 8.1 L953.5 17.9 L945.4 27.6 L935.6 34.9" fill="none" stroke="#b9dcea" stroke-width="0.6" stroke-linejoin="round" stroke-linecap="round" />
<path d="M925.9 79.6 L922.6 91.0 L916.1 97.5 L914.5 108.9" fill="none" stroke="#b9dcea" stroke-width="0.6" stroke-linejoin="round" stroke-linecap="round" />
<path d="M875.5 163.9 L888.5 168.0 L899.9 179.4 L904.7 190.7 L911.2 200.5" fill="none" stroke="#b9dcea" stroke-width="0.7" stroke-linejoin="round" stroke-linecap="round" />
<path d="M870.6 166.4 L867.4 182.6 L862.5 190.7 L864.1 207.0 L875.5 216.7 L885.2 229.7 L888.5 242.7" fill="none" stroke="#b9dcea" stroke-width="0.6" stroke-linejoin="round" stroke-linecap="round" />
<path d="M641.0 150.1 L660.5 146.9 L683.2 153.4 L709.2 153.4" fill="none" stroke="#b9dcea" stroke-width="0.6" stroke-linejoin="round" stroke-linecap="round" />
<path d="M641.0 185.9 L665.4 179.4 L688.1 174.5 L709.2 182.6 L720.6 174.5" fill="none" stroke="#b9dcea" stroke-width="0.6" stroke-linejoin="round" stroke-linecap="round" />
<path d="M868.5 166.4 L870.1 182.6 L871.7 205.4 L888.0 220.0 L894.5 233.0" fill="none" stroke="#b9dcea" stroke-width="0.6" stroke-linejoin="round" stroke-linecap="round" />
<path d="M319.6 0.0 L322.0 6.5 L320.4 16.2 L321.2 29.2 L320.4 39.0 L325.2 48.7 L329.3 56.1 L335.0 60.9 L346.4 61.7 L350.4 66.6 L351.2 73.1 L356.1 81.2 L359.4 91.0 L364.2 100.7 L370.7 112.1 L372.4 117.0" fill="none" stroke="#eba89c" stroke-width="0.8" stroke-linejoin="round" stroke-linecap="round" />
<path d="M329.3 56.1 L323.6 58.5 L317.9 66.6 L318.7 78.0 L321.2 87.7 L322.8 97.5" fill="none" stroke="#f3c795" stroke-width="0.8" stroke-linejoin="round" stroke-linecap="round" />
<path d="M374.6 129.0 L379.5 138.7 L387.6 146.9 L397.4 150.1 L407.1 156.6 L415.2 163.1 L421.7 159.9 L425.0 169.6 L431.5 177.7 L438.0 192.4 L451.0 198.9" fill="none" stroke="#eba89c" stroke-width="0.8" stroke-linejoin="round" stroke-linecap="round" />
<path d="M330.7 159.9 L347.0 163.1 L353.5 169.6 L361.6 177.7 L373.0 189.1 L381.1 198.9 L394.1 202.9 L403.9 205.4 L408.7 211.9" fill="none" stroke="#f3c795" stroke-width="0.8" stroke-linejoin="round" stroke-linecap="round" />
<path d="M387.6 146.9 L390.9 158.2 L394.1 171.2 L400.6 185.9 L407.1 197.2 L410.4 210.2 L418.5 223.2 L426.6 234.6 L429.9 246.0 L434.7 258.0" fill="none" stroke="#9a6a78" stroke-width="0.8" stroke-linejoin="round" stroke-linecap="round" />
<path d="M337.2 207.0 L345.4 216.7 L353.5 223.2 L361.6 233.0 L368.1 242.7 L374.6 252.5" fill="none" stroke="#c8b06a" stroke-width="0.7" stroke-linejoin="round" stroke-linecap="round" />
<path d="M501.5 0.0 L506.4 16.2 L508.0 48.7 L508.8 81.2 L508.0 129.0" fill="none" stroke="#d9899c" stroke-width="0.7" stroke-linejoin="round" stroke-linecap="round" />
<path d="M508.0 129.0 L511.2 153.4 L521.0 177.7 L534.0 200.5 L547.0 216.7 L556.7 229.7 L561.6 236.2 L561.6 258.0" fill="none" stroke="#d9899c" stroke-width="0.7" stroke-linejoin="round" stroke-linecap="round" />
<path d="M521.0 37.4 L537.2 56.9 L547.0 69.9 L569.7 91.0 L581.1 105.6" fill="none" stroke="#d9899c" stroke-width="0.7" stroke-linejoin="round" stroke-linecap="round" />
<path d="M509.6 16.2 L521.0 40.6 L534.0 61.7 L543.7 71.5 L553.5 81.2 L563.2 104.0 L568.1 129.0" fill="none" stroke="#8f8a98" stroke-width="0.6" stroke-linejoin="round" stroke-linecap="round" />
<path d="M568.1 129.0 L579.5 145.2 L586.0 177.7 L590.9 210.2 L594.1 242.7 L595.7 258.0" fill="none" stroke="#8f8a98" stroke-width="0.6" stroke-linejoin="round" stroke-linecap="round" />
<path d="M537.2 200.5 L538.9 233.0 L537.2 258.0" fill="none" stroke="#e9a9a0" stroke-width="0.7" stroke-linejoin="round" stroke-linecap="round" />
<path d="M525.9 233.0 L561.6 236.2 L586.0 234.6 L608.7 233.0 L628.2 241.1 L651.0 239.5" fill="none" stroke="#e9a9a0" stroke-width="0.7" stroke-linejoin="round" stroke-linecap="round" />
<path d="M579.5 129.0 L582.7 161.5 L602.2 185.9 L618.5 218.4 L625.0 226.5" fill="none" stroke="#d9899c" stroke-width="0.7" stroke-linejoin="round" stroke-linecap="round" />
<path d="M592.5 247.6 L602.2 239.5 L615.2 226.5 L631.5 210.2 L641.2 197.2 L651.0 190.7" fill="none" stroke="#857a78" stroke-width="0.8" stroke-linejoin="round" stroke-linecap="round" />
<path d="M608.7 155.0 L644.5 156.6 L651.0 145.2" fill="none" stroke="#e9a9a0" stroke-width="0.7" stroke-linejoin="round" stroke-linecap="round" />
<path d="M391.0 150.1 L400.7 150.1 L415.4 161.5 L423.5 171.2 L439.7 182.6 L444.6 197.2 L459.2 202.1 L482.0 184.2 L491.7 184.2 L495.0 161.5" fill="none" stroke="#eaa598" stroke-width="0.7" stroke-linejoin="round" stroke-linecap="round" />
<path d="M444.6 197.2 L446.2 210.2 L459.2 226.5 L462.5 242.7" fill="none" stroke="#f3c795" stroke-width="0.7" stroke-linejoin="round" stroke-linecap="round" />
<path d="M391.0 202.1 L408.9 203.7 L423.5 223.2 L430.0 242.7 L433.2 258.0" fill="none" stroke="#9a6a78" stroke-width="0.7" stroke-linejoin="round" stroke-linecap="round" />
<path d="M594.1 0.0 L581.1 13.0 L574.6 40.6 L563.2 68.2" fill="none" stroke="#f3c795" stroke-width="0.8" stroke-linejoin="round" stroke-linecap="round" />
<path d="M651.0 29.2 L634.7 30.9 L618.5 32.5 L607.1 48.7 L594.1 73.1 L581.1 91.0" fill="none" stroke="#a5988c" stroke-width="0.9" stroke-linejoin="round" stroke-linecap="round" />
<path d="M641.0 197.2 L649.1 182.6 L657.2 168.0 L670.2 156.6 L683.2 145.2 L697.9 137.1 L710.9 140.4 L725.5 136.3 L738.5 138.7 L754.7 132.2 L766.1 129.0" fill="none" stroke="#8a5a66" stroke-width="1.0" stroke-linejoin="round" stroke-linecap="round" />
<path d="M641.0 161.5 L650.7 148.5 L667.0 140.4 L681.6 138.7 L697.9 136.3" fill="none" stroke="#e2708c" stroke-width="0.7" stroke-linejoin="round" stroke-linecap="round" />
<path d="M641.0 239.5 L657.2 234.6 L671.9 226.5 L697.9 224.9 L717.4 221.6 L732.0 222.4 L754.7 216.7 L764.5 215.1" fill="none" stroke="#e2708c" stroke-width="0.7" stroke-linejoin="round" stroke-linecap="round" />
<path d="M647.5 205.4 L658.9 216.7 L671.9 226.5 L670.2 242.7 L667.0 258.0" fill="none" stroke="#f3c795" stroke-width="0.7" stroke-linejoin="round" stroke-linecap="round" />
<path d="M717.4 221.6 L738.5 223.2 L753.1 236.2 L745.0 246.0 L725.5 255.7" fill="none" stroke="#d8b878" stroke-width="0.7" stroke-linejoin="round" stroke-linecap="round" />
<path d="M741.7 148.5 L745.0 166.4 L753.1 185.9 L758.0 197.2" fill="none" stroke="#d8c070" stroke-width="0.7" stroke-linejoin="round" stroke-linecap="round" />
<path d="M774.2 166.4 L775.9 150.1 L787.2 137.1 L797.0 129.0" fill="none" stroke="#d8c070" stroke-width="0.7" stroke-linejoin="round" stroke-linecap="round" />
<path d="M773.4 182.6 L775.9 172.9 L784.0 168.0 L795.4 168.0" fill="none" stroke="#c8a860" stroke-width="0.7" stroke-linejoin="round" stroke-linecap="round" />
<path d="M767.7 87.7 L775.9 91.0 L784.0 95.9 L788.9 100.7 L788.1 107.2 L780.7 108.9 L769.4 108.5 L766.1 113.7 L764.5 129.0" fill="none" stroke="#8a7078" stroke-width="0.9" stroke-linejoin="round" stroke-linecap="round" />
<path d="M793.7 91.0 L792.9 113.7 L797.0 129.0" fill="none" stroke="#e88090" stroke-width="0.8" stroke-linejoin="round" stroke-linecap="round" />
<path d="M788.1 105.6 L791.0 106.4" fill="none" stroke="#dd5f80" stroke-width="0.9" stroke-linejoin="round" stroke-linecap="round" />
<path d="M782.4 112.1 L790.5 114.6 L800.2 112.1" fill="none" stroke="#f3c795" stroke-width="0.7" stroke-linejoin="round" stroke-linecap="round" />
<path d="M798.6 91.0 L799.4 104.0 L797.0 113.7" fill="none" stroke="#f3c795" stroke-width="0.7" stroke-linejoin="round" stroke-linecap="round" />
<path d="M751.5 13.8 L754.7 12.2 L771.0 9.7 L784.0 4.9 L788.9 0.0" fill="none" stroke="#8f8684" stroke-width="0.7" stroke-linejoin="round" stroke-linecap="round" />
<path d="M751.5 13.8 L751.5 21.1 L758.0 32.5 L762.9 42.2 L764.5 65.0 L766.1 87.7" fill="none" stroke="#d8909c" stroke-width="0.6" stroke-linejoin="round" stroke-linecap="round" />
<path d="M641.0 30.9 L650.7 30.1 L655.6 32.5 L670.2 43.9 L676.7 53.6 L688.1 63.4 L696.2 71.5 L709.2 65.0 L722.2 62.6 L745.0 64.2 L761.2 66.6" fill="none" stroke="#9c8f80" stroke-width="0.8" stroke-linejoin="round" stroke-linecap="round" />
<path d="M641.0 117.0 L647.5 110.5 L658.9 105.6 L676.7 100.7 L694.6 95.9 L712.5 91.0 L719.0 97.5 L732.0 104.0 L741.7 123.5" fill="none" stroke="#d8c070" stroke-width="0.7" stroke-linejoin="round" stroke-linecap="round" />
<path d="M953.5 0.0 L947.0 6.5 L937.2 16.2 L927.5 22.7 L923.4 30.9 L921.0 38.2 L914.5 43.1 L904.7 47.9 L895.0 55.2 L885.2 62.6 L878.7 71.5 L870.6 81.2 L862.5 91.0 L859.2 94.2 L851.1 93.1 L841.4 95.9 L830.0 98.3 L820.2 101.6 L812.1 107.2 L805.6 108.9 L799.1 107.2 L791.0 106.4" fill="none" stroke="#dd5f80" stroke-width="0.9" stroke-linejoin="round" stroke-linecap="round" />
<path d="M951.9 1.6 L945.4 9.7 L934.0 18.7 L925.9 24.4 L922.6 32.5 L919.4 40.6 L912.9 47.1 L911.2 52.0 L910.9 76.4 L895.0 91.0 L880.4 101.6 L875.5 101.1 L869.0 97.5 L852.7 93.4" fill="none" stroke="#8f8684" stroke-width="0.8" stroke-linejoin="round" stroke-linecap="round" />
<path d="M913.7 43.9 L912.1 78.0 L910.4 129.0" fill="none" stroke="#f0b0a0" stroke-width="0.8" stroke-linejoin="round" stroke-linecap="round" />
<path d="M880.4 101.6 L880.4 113.7 L873.9 120.2 L862.5 121.9 L859.2 129.0" fill="none" stroke="#8f8684" stroke-width="0.8" stroke-linejoin="round" stroke-linecap="round" />
<path d="M880.4 101.6 L891.7 108.1 L901.5 112.1" fill="none" stroke="#8f7a78" stroke-width="0.8" stroke-linejoin="round" stroke-linecap="round" />
<path d="M828.4 100.7 L831.6 108.9 L839.7 117.0 L847.9 125.1 L852.7 129.0" fill="none" stroke="#f0a898" stroke-width="0.8" stroke-linejoin="round" stroke-linecap="round" />
<path d="M856.0 94.2 L859.2 105.6 L860.9 117.0 L859.2 129.0" fill="none" stroke="#f3c795" stroke-width="0.7" stroke-linejoin="round" stroke-linecap="round" />
<path d="M901.5 112.1 L888.5 110.5 L878.7 113.7 L865.7 121.9 L852.7 126.7 L839.7 129.0" fill="none" stroke="#f0b0a0" stroke-width="0.7" stroke-linejoin="round" stroke-linecap="round" />
<path d="M1039.6 104.0 L1028.2 110.5 L1021.7 120.2 L1020.1 129.0" fill="none" stroke="#f3c795" stroke-width="0.7" stroke-linejoin="round" stroke-linecap="round" />
<path d="M921.0 117.0 L925.9 125.1 L929.1 129.0" fill="none" stroke="#f3c795" stroke-width="0.7" stroke-linejoin="round" stroke-linecap="round" />
<path d="M910.4 129.0 L911.2 145.2 L915.3 153.4 L914.5 164.7 L908.0 177.7 L907.2 194.0 L909.6 207.0 L912.9 220.0 L912.1 234.6 L916.1 242.7" fill="none" stroke="#f0a898" stroke-width="0.8" stroke-linejoin="round" stroke-linecap="round" />
<path d="M859.2 129.0 L857.6 137.1 L852.7 143.6 L851.9 151.7 L856.0 159.9 L864.1 165.6 L878.7 168.8 L888.5 174.5 L896.6 181.0 L903.1 192.4 L914.5 200.5 L917.7 205.4 L916.9 210.2 L922.6 221.6 L925.9 229.7 L925.9 239.5 L932.4 246.8" fill="none" stroke="#8f8684" stroke-width="0.8" stroke-linejoin="round" stroke-linecap="round" />
<path d="M856.0 143.6 L859.2 156.6 L863.3 164.7 L863.3 187.5 L862.5 213.5 L852.7 216.7 L841.4 220.0 L834.9 226.5 L820.2 228.1" fill="none" stroke="#f0b098" stroke-width="0.7" stroke-linejoin="round" stroke-linecap="round" />
<path d="M863.3 187.5 L875.5 184.2 L888.5 179.4 L895.0 182.6" fill="none" stroke="#f0a898" stroke-width="0.7" stroke-linejoin="round" stroke-linecap="round" />
<path d="M930.7 129.0 L940.5 137.1 L956.7 146.1 L977.9 144.4 L1007.1 142.0 L1018.5 129.0" fill="none" stroke="#f3c795" stroke-width="0.7" stroke-linejoin="round" stroke-linecap="round" />
<path d="M791.0 132.2 L800.7 129.0" fill="none" stroke="#e2708c" stroke-width="0.7" stroke-linejoin="round" stroke-linecap="round" />
<path d="M791.0 151.7 L795.9 155.0 L797.5 164.7 L792.6 169.6 L791.0 194.0" fill="none" stroke="#f0a898" stroke-width="0.7" stroke-linejoin="round" stroke-linecap="round" />
<path d="M791.0 156.6 L807.2 153.4 L817.0 145.2 L831.6 137.1 L847.9 129.0" fill="none" stroke="#f0a898" stroke-width="0.7" stroke-linejoin="round" stroke-linecap="round" />
<path d="M791.0 194.0 L800.7 202.1 L810.5 213.5 L818.6 226.5 L821.1 236.2" fill="none" stroke="#e8a090" stroke-width="0.7" stroke-linejoin="round" stroke-linecap="round" />
<g stroke="#1232f5" stroke-opacity="0.5" stroke-width="4.3" stroke-linejoin="round" stroke-linecap="round" fill="#1232f5" fill-opacity="0.2">
<path d="M459.2 -3.2 L464.9 7.3 L469.0 19.5 L472.2 32.5 L471.4 48.7 L488.5 41.4 L504.7 37.4 L519.4 36.6 L519.4 32.5 L516.9 16.2 L516.1 -3.2Z"/>
<path d="M471.4 48.7 L488.5 41.4 L504.7 37.4 L519.4 36.6 L521.0 42.2 L522.6 50.4 L524.2 58.5 L529.1 66.6 L534.0 73.1 L538.9 78.0 L542.1 81.2 L537.2 79.6 L530.7 74.7 L521.0 70.7 L508.0 69.9 L501.5 65.0 L491.7 62.6 L488.5 65.0 L486.9 71.5 L479.6 78.0 L477.9 74.7 L475.5 68.2 L472.2 61.7 L468.2 55.2Z"/>
<path d="M517.7 -3.2 L524.2 9.7 L532.4 22.7 L540.5 35.7 L549.4 52.0 L524.2 52.0 L522.6 50.4 L521.0 42.2 L519.4 32.5 L516.9 16.2 L516.1 -3.2Z"/>
<path d="M524.2 52.0 L549.4 52.0 L555.1 58.5 L561.6 68.2 L568.1 78.0 L574.6 86.1 L581.1 92.6 L577.9 97.5 L573.0 104.0 L574.6 107.2 L569.7 105.6 L564.9 102.4 L560.0 97.5 L553.5 95.9 L545.4 95.9 L539.7 92.6 L540.5 87.7 L542.1 81.2 L538.9 78.0 L534.0 73.1 L529.1 66.6 L524.2 58.5Z"/>
<path d="M488.5 65.0 L486.9 71.5 L479.6 78.0 L482.0 84.5 L488.5 88.6 L491.7 95.9 L496.6 104.0 L498.2 113.7 L496.6 123.5 L495.0 129.0 L493.4 138.8 L496.6 146.9 L496.6 161.5 L497.4 177.8 L499.1 197.3 L521.0 198.1 L537.2 198.1 L553.5 198.1 L555.1 190.8 L553.5 184.3 L551.9 177.8 L545.4 171.3 L540.5 158.3 L535.6 145.3 L533.2 135.5 L534.0 129.0 L534.8 113.7 L535.6 97.5 L537.2 79.6 L530.7 74.7 L521.0 70.7 L508.0 69.9 L501.5 65.0 L491.7 62.6 L488.5 65.0Z"/>
<path d="M537.2 79.6 L542.1 81.2 L540.5 87.7 L539.7 92.6 L545.4 95.9 L553.5 95.9 L560.0 97.5 L564.9 102.4 L569.7 105.6 L574.6 107.2 L573.0 113.7 L576.2 120.2 L574.6 129.0 L575.4 138.8 L561.6 140.4 L542.1 140.4 L538.9 146.9 L535.6 145.3 L533.2 135.5 L534.0 129.0 L534.8 113.7 L535.6 97.5Z"/>
<path d="M542.1 140.4 L561.6 140.4 L575.4 138.8 L574.6 146.9 L576.2 161.5 L579.5 177.8 L582.7 194.0 L576.2 203.8 L574.6 220.0 L573.0 223.3 L566.5 216.8 L563.2 208.6 L555.1 205.4 L553.5 198.1 L555.1 190.8 L553.5 184.3 L551.9 177.8 L545.4 171.3 L540.5 158.3 L538.9 146.9Z"/>
<path d="M574.6 107.2 L586.0 107.2 L589.2 113.7 L588.4 129.0 L594.1 138.8 L597.4 148.5 L608.7 153.4 L600.6 155.8 L586.0 161.5 L577.9 168.0 L576.2 161.5 L574.6 146.9 L575.4 138.8 L574.6 129.0 L576.2 120.2 L573.0 113.7Z"/>
<path d="M577.9 168.0 L586.0 161.5 L600.6 155.8 L608.7 153.4 L602.2 161.5 L608.7 177.8 L610.4 181.0 L603.9 185.9 L594.1 187.5 L582.7 194.0 L579.5 177.8Z"/>
<path d="M582.7 194.0 L594.1 187.5 L603.9 185.9 L610.4 181.0 L615.2 197.3 L621.7 213.5 L625.0 226.5 L626.6 234.6 L618.5 241.1 L610.4 242.8 L602.2 247.6 L586.0 249.3 L582.7 242.8 L574.6 234.6 L573.0 223.3 L574.6 220.0 L576.2 203.8Z"/>
<path d="M586.0 249.3 L602.2 247.6 L610.4 242.8 L618.5 241.1 L626.6 234.6 L631.5 239.5 L633.1 262.9 L587.6 262.9Z"/>
<path d="M499.1 197.3 L521.0 198.1 L537.2 198.1 L553.5 198.1 L555.1 205.4 L563.2 208.6 L566.5 216.8 L573.0 223.3 L574.6 234.6 L582.7 242.8 L586.0 249.3 L587.6 262.9 L525.9 262.9 L524.2 242.8 L516.1 229.8 L504.7 213.5Z"/>
<path d="M537.2 257.4 L553.5 255.0 L569.7 256.6 L571.4 263.9 L535.6 263.9Z"/>
<path d="M504.7 202.1 L511.2 200.5 L516.1 210.2 L521.0 221.6 L522.6 228.1 L517.7 229.7 L512.9 220.0 L508.0 210.2Z"/>
<path d="M713.3 -3.2 L725.5 9.7 L741.7 19.5 L751.5 29.2 L758.0 40.6 L766.1 45.5 L767.4 45.5 L767.4 -3.2Z"/>
<path d="M756.4 17.9 L755.6 29.2 L761.2 40.6 L767.4 43.9 L767.4 24.4 L761.2 21.1Z"/>
<path d="M717.4 61.7 L725.5 60.1 L738.5 57.7 L746.6 65.0 L754.7 65.0 L758.0 53.6 L764.5 47.1 L767.4 48.7 L767.4 92.6 L761.2 91.0 L759.6 81.2 L754.7 74.7 L748.2 71.5 L743.4 76.4 L745.0 84.5 L746.6 92.6 L740.1 94.2 L736.9 86.1 L728.7 84.5 L723.9 89.4 L727.1 99.1 L722.2 101.6 L717.4 97.5 L714.1 87.7 L712.5 81.2 L719.0 73.1Z"/>
<path d="M736.9 132.2 L745.0 129.0 L758.0 130.6 L761.2 138.7 L754.7 143.6 L745.0 145.2 L738.5 140.4Z"/>
<path d="M756.4 194.0 L769.4 195.6 L775.1 193.2 L772.6 202.1 L769.4 210.2 L765.3 213.5 L764.5 217.6 L762.1 210.2 L759.6 202.1Z"/>
<path d="M784.0 202.9 L790.5 207.0 L797.8 213.5 L795.4 220.0 L788.9 225.7 L784.8 222.4 L788.1 215.1 L785.6 208.6Z"/>
<path d="M814.9 239.5 L823.0 237.1 L832.7 245.2 L833.6 252.5 L829.5 260.6 L818.1 260.6 L814.1 249.2Z"/>
<path d="M420.2 172.9 L418.6 179.4 L425.1 185.9 L431.6 182.6 L436.5 185.9 L438.1 194.0 L431.6 198.9 L426.7 194.0 L423.5 185.9Z"/>
<path d="M456.0 194.0 L462.5 185.9 L470.6 184.2 L475.5 189.1 L472.2 195.6 L464.1 194.0 L460.9 198.9Z"/>
<path d="M387.0 59.3 L392.7 65.0 L392.7 71.5 L387.0 74.7 L382.1 69.9 L382.1 62.6Z"/>
<path d="M374.8 117.8 L378.1 123.5 L377.2 130.0 L372.4 130.0 L371.6 123.5Z"/>
<path d="M430.0 241.1 L436.5 242.7 L444.6 252.5 L446.2 259.0 L436.5 259.0 L431.6 249.2Z"/>
</g>
<path d="M542.9 151.7 L550.2 148.2 L558.0 149.8 L560.8 155.0 L557.1 159.5 L548.3 159.5 L543.7 156.9Z" fill="#e9eae0" stroke="#1232f5" stroke-opacity="0.5" stroke-width="3.8" stroke-linejoin="round"/>
<g opacity="0.5" stroke="#1232f5" stroke-width="5.6" stroke-linejoin="round" stroke-linecap="round" fill="none">
<path d="M317.9 13.0 L319.1 17.9 L318.7 22.7 L317.4 24.4"/>
<path d="M317.9 68.2 L318.4 73.1 L317.1 75.6"/>
<path d="M336.9 81.2 L339.9 86.1 L343.1 89.4"/>
<path d="M352.9 74.7 L356.1 81.2 L354.2 87.7 L358.6 87.7 L361.8 90.2"/>
<path d="M354.5 78.0 L357.7 84.5"/>
<path d="M356.1 106.4 L362.6 107.6"/>
<path d="M389.4 56.1 L394.3 60.1"/>
<path d="M391.9 90.2 L393.8 95.9"/>
<path d="M321.2 95.9 L325.2 104.0 L331.7 112.1"/>
<path d="M330.1 100.7 L326.9 107.2 L329.3 113.7"/>
<path d="M323.6 104.0 L320.4 113.7 L319.6 129.0"/>
<path d="M317.9 113.7 L317.1 129.0"/>
<path d="M322.0 117.0 L322.8 129.0"/>
<path d="M325.2 112.1 L325.2 123.5"/>
<path d="M279.7 0.0 L282.2 0.3"/>
<path d="M317.7 129.0 L321.0 143.6 L325.9 148.5"/>
<path d="M321.0 142.0 L329.1 143.6 L332.4 138.7"/>
<path d="M322.6 135.5 L327.5 140.4"/>
<path d="M319.4 132.2 L329.1 135.5"/>
<path d="M324.2 156.6 L329.1 161.5 L329.1 166.4 L332.4 177.7 L330.7 187.5"/>
<path d="M328.3 190.7 L330.7 200.5 L337.2 207.0 L342.1 210.2"/>
<path d="M327.5 194.0 L333.2 194.0 L330.7 197.2"/>
<path d="M329.1 190.7 L332.4 197.2"/>
<path d="M351.9 222.4 L360.0 231.4 L366.5 241.1"/>
<path d="M369.7 246.0 L377.9 255.7 L381.1 258.0"/>
<path d="M358.4 174.5 L364.9 181.0 L371.4 186.7"/>
<path d="M361.6 220.0 L368.1 229.7 L376.2 237.9 L380.3 244.4"/>
<path d="M365.7 224.9 L371.4 226.5 L377.9 236.2"/>
<path d="M368.1 233.0 L374.6 241.1"/>
<path d="M374.6 129.0 L377.9 131.4"/>
<path d="M394.1 171.2 L397.4 181.0 L402.2 190.7 L408.7 191.6"/>
<path d="M384.4 143.6 L388.4 155.0 L390.9 169.6"/>
<path d="M394.1 185.9 L400.6 192.4"/>
<path d="M398.2 133.1 L402.2 140.4 L405.5 145.2"/>
<path d="M400.6 135.5 L403.9 143.6"/>
<path d="M420.9 149.3 L425.0 158.2 L429.1 164.7 L425.0 168.0"/>
<path d="M423.4 156.6 L429.9 161.5"/>
<path d="M410.4 213.5 L418.5 224.9 L428.2 234.6 L438.0 242.7 L444.5 252.5 L449.4 258.0"/>
<path d="M415.2 229.7 L423.4 239.5 L429.9 249.2 L431.5 258.0"/>
<path d="M434.7 233.0 L444.5 241.1 L451.0 246.0"/>
<path d="M421.7 233.0 L429.9 242.7 L439.6 252.5"/>
<path d="M447.1 169.6 L452.7 176.1 L459.2 174.5 L451.1 181.0"/>
<path d="M462.5 130.6 L469.0 131.4"/>
<path d="M471.4 140.4 L473.9 141.2"/>
<path d="M475.5 151.7 L479.6 161.5 L483.6 174.5"/>
<path d="M488.5 129.0 L491.7 145.2 L496.6 161.5 L498.2 182.6"/>
<path d="M486.9 132.2 L490.1 153.4"/>
<path d="M495.0 129.0 L499.9 138.7 L503.1 151.7"/>
<path d="M495.0 145.2 L498.2 169.6"/>
<path d="M452.7 221.6 L460.9 224.9 L465.7 216.7 L472.2 223.2 L469.0 229.7"/>
<path d="M456.0 220.0 L464.1 226.5 L470.6 226.5"/>
<path d="M475.5 237.9 L482.0 242.7 L490.1 249.2"/>
<path d="M477.1 241.1 L486.9 246.0"/>
<path d="M501.5 237.1 L506.4 247.6"/>
<path d="M444.6 237.1 L451.1 242.7"/>
<path d="M457.6 246.0 L467.4 252.5 L475.5 258.0"/>
<path d="M408.9 211.9 L413.7 220.0 L423.5 229.7 L433.2 239.5 L444.6 252.5 L449.5 258.0"/>
<path d="M413.7 229.7 L421.9 239.5 L428.4 249.2 L431.6 258.0"/>
<path d="M616.9 205.4 L621.7 213.5 L620.1 216.7"/>
<path d="M634.7 250.1 L638.0 257.4"/>
<path d="M420.2 148.5 L423.5 156.6 L428.4 163.1"/>
<path d="M391.0 145.2 L394.2 161.5 L397.5 177.7 L405.6 190.7 L408.9 192.4"/>
<path d="M397.5 132.2 L400.7 138.7 L405.6 145.2"/>
<path d="M468.0 73.9 L468.0 83.7"/>
<path d="M464.1 95.1 L469.0 95.9"/>
<path d="M472.2 108.9 L473.1 117.0"/>
<path d="M485.2 112.1 L488.5 116.2"/>
<path d="M464.1 121.9 L465.7 129.0"/>
<path d="M417.0 117.0 L423.5 123.5"/>
<path d="M418.6 119.4 L421.9 121.9"/>
<path d="M391.8 56.9 L392.6 73.1"/>
<path d="M391.0 89.4 L394.2 95.9"/>
<path d="M475.5 68.2 L479.6 81.2 L488.5 91.0 L495.0 104.0 L496.6 120.2"/>
<path d="M486.9 123.5 L490.1 129.0"/>
<path d="M615.2 9.7 L619.3 16.2"/>
<path d="M616.9 11.4 L618.5 14.6"/>
<path d="M639.6 40.6 L644.5 39.0 L649.4 42.2 L644.5 47.1 L640.4 45.5"/>
<path d="M649.4 3.2 L651.0 6.5"/>
<path d="M647.5 4.1 L654.0 8.1 L662.1 13.0 L665.4 21.1 L671.9 27.6 L681.6 24.4 L688.1 26.0 L689.7 29.2"/>
<path d="M670.2 6.5 L673.5 13.0 L667.0 17.9"/>
<path d="M678.4 29.2 L676.7 34.1"/>
<path d="M642.6 39.0 L645.9 45.5 L641.0 47.1"/>
<path d="M650.7 42.2 L660.5 41.4 L665.4 45.5"/>
<path d="M657.2 17.9 L663.7 22.7"/>
<path d="M655.6 21.1 L660.5 16.2"/>
<path d="M709.2 15.4 L715.7 17.1 L722.2 20.3 L728.7 22.7"/>
<path d="M706.0 28.4 L712.5 30.9 L717.4 35.7 L723.9 40.6"/>
<path d="M709.2 32.5 L714.1 37.4"/>
<path d="M688.1 42.2 L696.2 44.7 L702.7 47.1 L709.2 52.0"/>
<path d="M676.7 52.8 L684.9 55.2 L688.1 61.7 L694.6 68.2 L699.5 73.1 L706.0 78.0"/>
<path d="M683.2 63.4 L689.7 69.9 L697.9 76.4"/>
<path d="M701.1 63.4 L710.9 65.0 L717.4 61.7"/>
<path d="M712.5 68.2 L719.0 76.4 L714.1 84.5"/>
<path d="M741.7 125.1 L754.7 125.1 L759.6 129.0"/>
<path d="M641.0 0.0 L650.7 1.6"/>
<path d="M658.9 0.0 L662.1 0.8"/>
<path d="M758.8 146.1 L764.5 149.3 L765.3 151.7"/>
<path d="M759.6 148.5 L764.5 150.9"/>
<path d="M737.7 155.8 L744.2 155.0"/>
<path d="M754.7 158.2 L749.1 160.7 L746.6 168.0 L748.2 176.1 L753.1 180.2"/>
<path d="M749.9 163.1 L748.2 172.9"/>
<path d="M761.2 198.9 L767.7 205.4 L764.5 210.2"/>
<path d="M787.2 210.2 L793.7 216.7 L790.5 221.6"/>
<path d="M817.3 242.7 L819.7 252.5 L823.0 258.0"/>
<path d="M791.0 207.0 L795.9 213.5 L792.6 221.6"/>
<path d="M387.6 138.7 L392.5 148.5 L395.7 161.5 L394.1 171.2"/>
</g>
<g fill="#1232f5" fill-opacity="0.56">
<circle cx="497.8" cy="69.8" r="2.5"/>
<circle cx="498.3" cy="69.0" r="2.5"/>
<circle cx="503.1" cy="69.0" r="2.5"/>
<circle cx="503.7" cy="70.3" r="2.5"/>
<circle cx="510.0" cy="69.9" r="2.5"/>
<circle cx="509.0" cy="70.6" r="2.5"/>
<circle cx="497.9" cy="74.4" r="2.5"/>
<circle cx="504.0" cy="75.3" r="2.5"/>
<circle cx="503.6" cy="75.1" r="2.5"/>
<circle cx="509.5" cy="74.9" r="2.5"/>
<circle cx="508.8" cy="75.2" r="2.5"/>
<circle cx="514.8" cy="74.6" r="2.5"/>
<circle cx="514.6" cy="75.1" r="2.5"/>
<circle cx="520.6" cy="74.4" r="2.5"/>
<circle cx="525.0" cy="74.2" r="2.5"/>
<circle cx="525.4" cy="75.5" r="2.5"/>
<circle cx="530.7" cy="75.2" r="2.5"/>
<circle cx="499.3" cy="80.3" r="2.5"/>
<circle cx="504.1" cy="81.2" r="2.5"/>
<circle cx="504.4" cy="80.0" r="2.5"/>
<circle cx="509.1" cy="79.8" r="2.5"/>
<circle cx="508.5" cy="79.6" r="2.5"/>
<circle cx="514.3" cy="81.0" r="2.5"/>
<circle cx="513.7" cy="80.3" r="2.5"/>
<circle cx="520.4" cy="79.9" r="2.5"/>
<circle cx="525.9" cy="79.7" r="2.5"/>
<circle cx="524.5" cy="79.9" r="2.5"/>
<circle cx="529.9" cy="79.5" r="2.5"/>
<circle cx="494.1" cy="86.0" r="2.5"/>
<circle cx="493.3" cy="85.9" r="2.5"/>
<circle cx="499.1" cy="86.3" r="2.5"/>
<circle cx="499.1" cy="85.5" r="2.5"/>
<circle cx="503.1" cy="84.9" r="2.5"/>
<circle cx="503.3" cy="85.0" r="2.5"/>
<circle cx="508.5" cy="84.9" r="2.5"/>
<circle cx="508.9" cy="84.8" r="2.5"/>
<circle cx="509.8" cy="85.9" r="2.5"/>
<circle cx="514.2" cy="85.0" r="2.5"/>
<circle cx="515.1" cy="86.5" r="2.5"/>
<circle cx="519.0" cy="85.4" r="2.5"/>
<circle cx="519.3" cy="86.2" r="2.5"/>
<circle cx="525.1" cy="85.0" r="2.5"/>
<circle cx="525.1" cy="84.8" r="2.5"/>
<circle cx="530.7" cy="85.2" r="2.5"/>
<circle cx="493.3" cy="91.5" r="2.5"/>
<circle cx="492.9" cy="90.4" r="2.5"/>
<circle cx="499.1" cy="91.5" r="2.5"/>
<circle cx="503.6" cy="90.1" r="2.5"/>
<circle cx="503.0" cy="90.6" r="2.5"/>
<circle cx="509.1" cy="91.7" r="2.5"/>
<circle cx="524.5" cy="90.4" r="2.5"/>
<circle cx="525.3" cy="91.7" r="2.5"/>
<circle cx="530.9" cy="90.2" r="2.5"/>
<circle cx="499.0" cy="96.2" r="2.5"/>
<circle cx="504.4" cy="97.1" r="2.5"/>
<circle cx="509.6" cy="95.7" r="2.5"/>
<circle cx="508.5" cy="95.6" r="2.5"/>
<circle cx="515.0" cy="97.1" r="2.5"/>
<circle cx="514.7" cy="96.0" r="2.5"/>
<circle cx="520.6" cy="96.5" r="2.5"/>
<circle cx="519.8" cy="97.0" r="2.5"/>
<circle cx="519.6" cy="96.9" r="2.5"/>
<circle cx="524.7" cy="95.8" r="2.5"/>
<circle cx="525.2" cy="95.8" r="2.5"/>
<circle cx="530.1" cy="96.2" r="2.5"/>
<circle cx="530.5" cy="97.0" r="2.5"/>
<circle cx="498.6" cy="101.6" r="2.5"/>
<circle cx="503.0" cy="102.1" r="2.5"/>
<circle cx="503.3" cy="101.5" r="2.5"/>
<circle cx="504.3" cy="101.6" r="2.5"/>
<circle cx="509.7" cy="100.8" r="2.5"/>
<circle cx="514.9" cy="101.6" r="2.5"/>
<circle cx="514.6" cy="102.0" r="2.5"/>
<circle cx="519.8" cy="101.6" r="2.5"/>
<circle cx="520.1" cy="101.5" r="2.5"/>
<circle cx="525.4" cy="102.2" r="2.5"/>
<circle cx="504.1" cy="70.2" r="2.5"/>
<circle cx="507.5" cy="70.0" r="2.5"/>
<circle cx="508.8" cy="72.3" r="2.5"/>
<circle cx="509.6" cy="70.3" r="2.5"/>
<circle cx="520.4" cy="70.5" r="2.5"/>
<circle cx="520.3" cy="71.0" r="2.5"/>
<circle cx="501.9" cy="76.5" r="2.5"/>
<circle cx="507.7" cy="77.4" r="2.5"/>
<circle cx="506.8" cy="76.8" r="2.5"/>
<circle cx="508.1" cy="75.1" r="2.5"/>
<circle cx="512.2" cy="78.2" r="2.5"/>
<circle cx="530.4" cy="75.9" r="2.5"/>
<circle cx="528.3" cy="76.4" r="2.5"/>
<circle cx="530.8" cy="77.7" r="2.5"/>
<circle cx="508.5" cy="82.6" r="2.5"/>
<circle cx="507.0" cy="80.6" r="2.5"/>
<circle cx="515.0" cy="82.4" r="2.5"/>
<circle cx="514.6" cy="80.6" r="2.5"/>
<circle cx="514.7" cy="80.6" r="2.5"/>
<circle cx="525.6" cy="81.2" r="2.5"/>
<circle cx="523.0" cy="82.1" r="2.5"/>
<circle cx="528.1" cy="81.0" r="2.5"/>
<circle cx="528.9" cy="81.3" r="2.5"/>
<circle cx="530.3" cy="81.3" r="2.5"/>
<circle cx="528.0" cy="86.5" r="2.5"/>
<circle cx="527.9" cy="88.0" r="2.5"/>
<circle cx="502.7" cy="106.1" r="2.5"/>
<circle cx="508.5" cy="105.5" r="2.5"/>
<circle cx="524.9" cy="105.3" r="2.5"/>
<circle cx="529.1" cy="105.9" r="2.5"/>
<circle cx="529.5" cy="104.9" r="2.5"/>
<circle cx="529.2" cy="106.1" r="2.5"/>
<circle cx="508.6" cy="110.2" r="2.5"/>
<circle cx="508.6" cy="110.4" r="2.5"/>
<circle cx="529.7" cy="109.9" r="2.5"/>
<circle cx="497.6" cy="116.1" r="2.5"/>
<circle cx="503.2" cy="115.3" r="2.5"/>
<circle cx="502.6" cy="115.7" r="2.5"/>
<circle cx="502.9" cy="116.3" r="2.5"/>
<circle cx="497.5" cy="121.8" r="2.5"/>
<circle cx="498.4" cy="120.6" r="2.5"/>
<circle cx="530.5" cy="121.9" r="2.5"/>
<circle cx="524.4" cy="126.0" r="2.5"/>
<circle cx="525.2" cy="126.8" r="2.5"/>
<circle cx="524.9" cy="126.9" r="2.5"/>
<circle cx="498.6" cy="132.0" r="2.5"/>
<circle cx="498.2" cy="132.3" r="2.5"/>
<circle cx="502.7" cy="131.6" r="2.5"/>
<circle cx="514.0" cy="131.8" r="2.5"/>
<circle cx="519.5" cy="132.3" r="2.5"/>
<circle cx="525.1" cy="131.6" r="2.5"/>
<circle cx="524.7" cy="131.1" r="2.5"/>
<circle cx="530.3" cy="132.3" r="2.5"/>
<circle cx="529.5" cy="132.0" r="2.5"/>
<circle cx="498.8" cy="136.8" r="2.5"/>
<circle cx="499.0" cy="138.1" r="2.5"/>
<circle cx="504.3" cy="137.2" r="2.5"/>
<circle cx="508.2" cy="137.4" r="2.5"/>
<circle cx="508.1" cy="137.3" r="2.5"/>
<circle cx="520.0" cy="137.7" r="2.5"/>
<circle cx="523.8" cy="136.4" r="2.5"/>
<circle cx="529.3" cy="137.0" r="2.5"/>
<circle cx="535.7" cy="137.9" r="2.5"/>
<circle cx="534.5" cy="138.1" r="2.5"/>
<circle cx="509.6" cy="142.8" r="2.5"/>
<circle cx="508.5" cy="142.5" r="2.5"/>
<circle cx="514.6" cy="142.2" r="2.5"/>
<circle cx="514.8" cy="142.1" r="2.5"/>
<circle cx="513.6" cy="142.6" r="2.5"/>
<circle cx="520.0" cy="143.2" r="2.5"/>
<circle cx="519.6" cy="143.3" r="2.5"/>
<circle cx="503.9" cy="148.2" r="2.5"/>
<circle cx="508.1" cy="147.8" r="2.5"/>
<circle cx="508.4" cy="147.5" r="2.5"/>
<circle cx="524.7" cy="147.7" r="2.5"/>
<circle cx="530.7" cy="147.9" r="2.5"/>
<circle cx="529.4" cy="148.6" r="2.5"/>
<circle cx="502.7" cy="152.9" r="2.5"/>
<circle cx="502.7" cy="152.7" r="2.5"/>
<circle cx="503.0" cy="153.3" r="2.5"/>
<circle cx="519.1" cy="152.9" r="2.5"/>
<circle cx="518.5" cy="152.8" r="2.5"/>
<circle cx="530.6" cy="152.7" r="2.5"/>
<circle cx="503.3" cy="159.3" r="2.5"/>
<circle cx="504.0" cy="159.2" r="2.5"/>
<circle cx="509.4" cy="158.4" r="2.5"/>
<circle cx="508.9" cy="157.6" r="2.5"/>
<circle cx="505.3" cy="160.6" r="2.5"/>
<circle cx="509.3" cy="160.1" r="2.5"/>
<circle cx="510.0" cy="160.1" r="2.5"/>
<circle cx="509.5" cy="160.2" r="2.5"/>
<circle cx="514.3" cy="159.3" r="2.5"/>
<circle cx="514.6" cy="160.0" r="2.5"/>
<circle cx="513.5" cy="159.1" r="2.5"/>
<circle cx="508.5" cy="163.6" r="2.5"/>
<circle cx="513.3" cy="164.5" r="2.5"/>
<circle cx="512.9" cy="164.0" r="2.5"/>
<circle cx="519.1" cy="164.3" r="2.5"/>
<circle cx="509.6" cy="168.6" r="2.5"/>
<circle cx="508.4" cy="168.9" r="2.5"/>
<circle cx="514.1" cy="169.7" r="2.5"/>
<circle cx="513.3" cy="168.1" r="2.5"/>
<circle cx="513.5" cy="168.8" r="2.5"/>
<circle cx="518.9" cy="169.0" r="2.5"/>
<circle cx="517.9" cy="169.8" r="2.5"/>
<circle cx="522.5" cy="169.4" r="2.5"/>
<circle cx="522.7" cy="169.8" r="2.5"/>
<circle cx="509.1" cy="173.8" r="2.5"/>
<circle cx="510.0" cy="172.9" r="2.5"/>
<circle cx="509.0" cy="173.0" r="2.5"/>
<circle cx="518.2" cy="174.3" r="2.5"/>
<circle cx="519.1" cy="174.0" r="2.5"/>
<circle cx="519.3" cy="174.3" r="2.5"/>
<circle cx="523.5" cy="172.7" r="2.5"/>
<circle cx="523.3" cy="173.3" r="2.5"/>
<circle cx="526.7" cy="173.2" r="2.5"/>
<circle cx="527.4" cy="174.4" r="2.5"/>
<circle cx="526.9" cy="174.4" r="2.5"/>
<circle cx="514.4" cy="178.0" r="2.5"/>
<circle cx="513.0" cy="178.1" r="2.5"/>
<circle cx="518.2" cy="178.9" r="2.5"/>
<circle cx="517.6" cy="178.0" r="2.5"/>
<circle cx="522.2" cy="177.4" r="2.5"/>
<circle cx="523.8" cy="177.7" r="2.5"/>
<circle cx="527.2" cy="179.0" r="2.5"/>
<circle cx="531.9" cy="177.7" r="2.5"/>
<circle cx="531.3" cy="178.6" r="2.5"/>
<circle cx="513.0" cy="182.3" r="2.5"/>
<circle cx="518.2" cy="182.3" r="2.5"/>
<circle cx="522.5" cy="183.3" r="2.5"/>
<circle cx="523.5" cy="183.3" r="2.5"/>
<circle cx="527.3" cy="182.5" r="2.5"/>
<circle cx="532.7" cy="182.3" r="2.5"/>
<circle cx="531.4" cy="181.9" r="2.5"/>
<circle cx="532.3" cy="182.4" r="2.5"/>
<circle cx="540.7" cy="182.0" r="2.5"/>
<circle cx="541.4" cy="183.1" r="2.5"/>
<circle cx="546.2" cy="183.1" r="2.5"/>
<circle cx="546.5" cy="183.4" r="2.5"/>
<circle cx="518.1" cy="187.5" r="2.5"/>
<circle cx="518.2" cy="187.8" r="2.5"/>
<circle cx="522.4" cy="188.0" r="2.5"/>
<circle cx="523.2" cy="187.0" r="2.5"/>
<circle cx="522.8" cy="188.2" r="2.5"/>
<circle cx="527.9" cy="188.2" r="2.5"/>
<circle cx="526.9" cy="187.3" r="2.5"/>
<circle cx="531.4" cy="187.0" r="2.5"/>
<circle cx="537.0" cy="188.1" r="2.5"/>
<circle cx="536.6" cy="188.0" r="2.5"/>
<circle cx="542.2" cy="186.6" r="2.5"/>
<circle cx="541.6" cy="187.6" r="2.5"/>
<circle cx="545.5" cy="186.9" r="2.5"/>
<circle cx="546.2" cy="187.6" r="2.5"/>
<circle cx="545.5" cy="186.5" r="2.5"/>
<circle cx="550.3" cy="186.8" r="2.5"/>
<circle cx="551.2" cy="187.4" r="2.5"/>
<circle cx="518.5" cy="192.2" r="2.5"/>
<circle cx="517.7" cy="191.3" r="2.5"/>
<circle cx="522.7" cy="192.8" r="2.5"/>
<circle cx="522.7" cy="192.1" r="2.5"/>
<circle cx="522.8" cy="191.8" r="2.5"/>
<circle cx="527.1" cy="192.4" r="2.5"/>
<circle cx="532.1" cy="192.5" r="2.5"/>
<circle cx="532.1" cy="192.6" r="2.5"/>
<circle cx="536.9" cy="192.2" r="2.5"/>
<circle cx="537.6" cy="191.2" r="2.5"/>
<circle cx="537.0" cy="191.7" r="2.5"/>
<circle cx="541.5" cy="192.7" r="2.5"/>
<circle cx="540.7" cy="191.9" r="2.5"/>
<circle cx="542.0" cy="192.8" r="2.5"/>
<circle cx="546.9" cy="191.9" r="2.5"/>
<circle cx="545.2" cy="192.7" r="2.5"/>
<circle cx="551.2" cy="191.3" r="2.5"/>
<circle cx="498.2" cy="184.2" r="2.5"/>
<circle cx="535.6" cy="172.9" r="2.5"/>
<circle cx="540.5" cy="177.7" r="2.5"/>
<circle cx="521.8" cy="135.2" r="2.5"/>
</g>
<text x="413.5" y="26.2" text-anchor="middle" font-size="7.2" font-style="italic" font-weight="normal" fill="#3f8a3a" fill-opacity="0.85" textLength="30.0" lengthAdjust="spacingAndGlyphs">Yolla Bolly-</text>
<text x="413.5" y="33.6" text-anchor="middle" font-size="7.2" font-style="italic" font-weight="normal" fill="#3f8a3a" fill-opacity="0.85" textLength="18.5" lengthAdjust="spacingAndGlyphs">Middle</text>
<text x="413.5" y="41.3" text-anchor="middle" font-size="7.2" font-style="italic" font-weight="normal" fill="#3f8a3a" fill-opacity="0.85" textLength="39.8" lengthAdjust="spacingAndGlyphs">Eel Wilderness</text>
<text x="436.2" y="89.1" text-anchor="middle" font-size="8.2" font-style="italic" font-weight="normal" fill="#3f8a3a" fill-opacity="0.9" textLength="37.4" lengthAdjust="spacingAndGlyphs">Mendocino</text>
<text x="436.2" y="98.1" text-anchor="middle" font-size="8.2" font-style="italic" font-weight="normal" fill="#3f8a3a" fill-opacity="0.9" textLength="29.5" lengthAdjust="spacingAndGlyphs">National</text>
<text x="436.2" y="107.3" text-anchor="middle" font-size="8.2" font-style="italic" font-weight="normal" fill="#3f8a3a" fill-opacity="0.9" textLength="21.0" lengthAdjust="spacingAndGlyphs">Forest</text>
<text x="467.4" y="164.9" text-anchor="middle" font-size="7.2" font-style="italic" font-weight="normal" fill="#3f8a3a" fill-opacity="0.85" textLength="28.0" lengthAdjust="spacingAndGlyphs">Berryessa</text>
<text x="467.4" y="172.4" text-anchor="middle" font-size="7.2" font-style="italic" font-weight="normal" fill="#3f8a3a" fill-opacity="0.85" textLength="43.9" lengthAdjust="spacingAndGlyphs">Snow Mountain</text>
<text x="467.4" y="180.0" text-anchor="middle" font-size="7.2" font-style="italic" font-weight="normal" fill="#3f8a3a" fill-opacity="0.85" textLength="24.5" lengthAdjust="spacingAndGlyphs">National</text>
<text x="467.4" y="187.7" text-anchor="middle" font-size="7.2" font-style="italic" font-weight="normal" fill="#3f8a3a" fill-opacity="0.85" textLength="31.0" lengthAdjust="spacingAndGlyphs">Monument</text>
<text x="720.6" y="43.6" text-anchor="middle" font-size="8.2" font-style="italic" font-weight="normal" fill="#3f8a3a" fill-opacity="0.85" textLength="25.0" lengthAdjust="spacingAndGlyphs">Plumas</text>
<text x="720.6" y="53.4" text-anchor="middle" font-size="8.2" font-style="italic" font-weight="normal" fill="#3f8a3a" fill-opacity="0.85" textLength="29.2" lengthAdjust="spacingAndGlyphs">National</text>
<text x="720.6" y="62.3" text-anchor="middle" font-size="8.2" font-style="italic" font-weight="normal" fill="#3f8a3a" fill-opacity="0.85" textLength="20.5" lengthAdjust="spacingAndGlyphs">Forest</text>
<text x="683.6" y="107.8" text-anchor="middle" font-size="8.2" font-style="italic" font-weight="normal" fill="#3f8a3a" fill-opacity="0.9" textLength="52.0" lengthAdjust="spacingAndGlyphs">Tahoe National</text>
<text x="683.6" y="116.9" text-anchor="middle" font-size="8.2" font-style="italic" font-weight="normal" fill="#3f8a3a" fill-opacity="0.9" textLength="20.5" lengthAdjust="spacingAndGlyphs">Forest</text>
<text x="745.0" y="214.1" text-anchor="middle" font-size="8.2" font-style="italic" font-weight="normal" fill="#3f8a3a" fill-opacity="0.9" textLength="30.9" lengthAdjust="spacingAndGlyphs">Eldorado</text>
<text x="745.0" y="223.8" text-anchor="middle" font-size="8.2" font-style="italic" font-weight="normal" fill="#3f8a3a" fill-opacity="0.9" textLength="29.2" lengthAdjust="spacingAndGlyphs">National</text>
<text x="745.0" y="232.7" text-anchor="middle" font-size="8.2" font-style="italic" font-weight="normal" fill="#3f8a3a" fill-opacity="0.9" textLength="20.5" lengthAdjust="spacingAndGlyphs">Forest</text>
<text x="863.6" y="259.4" text-anchor="middle" font-size="9.6" font-style="italic" font-weight="normal" fill="#3f8a3a" fill-opacity="0.95" textLength="45.5" lengthAdjust="spacingAndGlyphs">Humboldt-</text>
<text x="821.5" y="32.2" text-anchor="middle" font-size="7.2" font-style="italic" font-weight="normal" fill="#8a7b62" fill-opacity="0.9" textLength="24.0" lengthAdjust="spacingAndGlyphs">Pyramid</text>
<text x="821.5" y="40.0" text-anchor="middle" font-size="7.2" font-style="italic" font-weight="normal" fill="#8a7b62" fill-opacity="0.9" textLength="33.0" lengthAdjust="spacingAndGlyphs">Lake Paiute</text>
<text x="821.5" y="47.4" text-anchor="middle" font-size="7.2" font-style="italic" font-weight="normal" fill="#8a7b62" fill-opacity="0.9" textLength="33.3" lengthAdjust="spacingAndGlyphs">Reservation</text>
<text x="919.4" y="186.8" text-anchor="middle" font-size="7.2" font-style="italic" font-weight="normal" fill="#8a7b62" fill-opacity="0.9" textLength="20.0" lengthAdjust="spacingAndGlyphs">Walker</text>
<text x="919.4" y="194.5" text-anchor="middle" font-size="7.2" font-style="italic" font-weight="normal" fill="#8a7b62" fill-opacity="0.9" textLength="33.3" lengthAdjust="spacingAndGlyphs">River Paiute</text>
<text x="919.4" y="202.3" text-anchor="middle" font-size="7.2" font-style="italic" font-weight="normal" fill="#8a7b62" fill-opacity="0.9" textLength="14.0" lengthAdjust="spacingAndGlyphs">Tribe</text>
<text x="551.0" y="79.1" text-anchor="middle" font-size="7.4" font-style="normal" font-weight="normal" fill="#3a3a3a" fill-opacity="1" textLength="16.0" lengthAdjust="spacingAndGlyphs" stroke="#ffffff" stroke-opacity="0.75" stroke-width="1.6" paint-order="stroke" stroke-linejoin="round">Chico</text>
<text x="577.0" y="169.1" text-anchor="middle" font-size="7.4" font-style="normal" font-weight="normal" fill="#3a3a3a" fill-opacity="1" textLength="27.6" lengthAdjust="spacingAndGlyphs" stroke="#ffffff" stroke-opacity="0.75" stroke-width="1.6" paint-order="stroke" stroke-linejoin="round">Yuba City</text>
<text x="615.2" y="227.2" text-anchor="middle" font-size="7.4" font-style="normal" font-weight="normal" fill="#3a3a3a" fill-opacity="1" textLength="26.0" lengthAdjust="spacingAndGlyphs" stroke="#ffffff" stroke-opacity="0.75" stroke-width="1.6" paint-order="stroke" stroke-linejoin="round">Roseville</text>
<text x="628.2" y="238.6" text-anchor="middle" font-size="7.4" font-style="normal" font-weight="normal" fill="#3a3a3a" fill-opacity="1" textLength="21.0" lengthAdjust="spacingAndGlyphs" stroke="#ffffff" stroke-opacity="0.75" stroke-width="1.6" paint-order="stroke" stroke-linejoin="round">Folsom</text>
<text x="590.9" y="254.3" text-anchor="middle" font-size="9.4" font-style="normal" font-weight="normal" fill="#3a3a3a" fill-opacity="1" textLength="46.3" lengthAdjust="spacingAndGlyphs" stroke="#ffffff" stroke-opacity="0.75" stroke-width="1.6" paint-order="stroke" stroke-linejoin="round">Sacramento</text>
<text x="788.9" y="109.9" text-anchor="middle" font-size="7.4" font-style="normal" font-weight="normal" fill="#3a3a3a" fill-opacity="1" textLength="14.6" lengthAdjust="spacingAndGlyphs" stroke="#ffffff" stroke-opacity="0.75" stroke-width="1.6" paint-order="stroke" stroke-linejoin="round">Reno</text>
<text x="794.6" y="165.0" text-anchor="middle" font-size="7.4" font-style="normal" font-weight="normal" fill="#3a3a3a" fill-opacity="1" textLength="34.1" lengthAdjust="spacingAndGlyphs" stroke="#ffffff" stroke-opacity="0.75" stroke-width="1.6" paint-order="stroke" stroke-linejoin="round">Carson City</text>
<text x="910.9" y="117.7" text-anchor="middle" font-size="7.4" font-style="normal" font-weight="normal" fill="#3a3a3a" fill-opacity="1" textLength="18.4" lengthAdjust="spacingAndGlyphs" stroke="#ffffff" stroke-opacity="0.75" stroke-width="1.6" paint-order="stroke" stroke-linejoin="round">Fallon</text>
</g>
<rect x="6.6" y="6.7" width="20.9" height="40.6" rx="3" fill="#000" fill-opacity="0.2"/>
<rect x="7.9" y="8.0" width="18.3" height="38" rx="1.8" fill="#fff"/>
<rect x="7.9" y="26.0" width="18.3" height="0.7" fill="#ccc"/>
<text x="17.0" y="22.3" text-anchor="middle" font-family="Liberation Mono, DejaVu Sans Mono, monospace" font-weight="bold" font-size="15" fill="#000">+</text>
<text x="17.6" y="42.2" text-anchor="middle" font-family="Liberation Mono, DejaVu Sans Mono, monospace" font-weight="bold" font-size="15" fill="#000">−</text>
<rect x="926.6" y="248.3" width="113.5" height="10" fill="#fff" fill-opacity="0.8"/>
<text x="929.9" y="255.4" font-size="7.3" font-style="normal" textLength="106.5" lengthAdjust="spacingAndGlyphs" fill="#333"><tspan fill="#0078a8">Leaflet</tspan> | © <tspan fill="#0078a8">OpenStreetMap, ODbL</tspan></text>
</svg>
</div>
<div id="seltxt" class="abs">You've selected point 390540N1220607W008</div>
<div id="tabline" class="abs"></div>
<div id="tab1" class="abs"></div>
<div class="abs tabt" id="t1" style="left:559px;top:358.2px;color:#777;">Hydrograph</div>
<div class="abs tabt" id="t2" style="left:633px;top:358.2px;color:#db7069;">Table</div>
<div class="abs tabt" id="t3" style="left:679px;top:358.2px;color:#db7069;">Summary</div>
<div id="rplot" class="abs">
<svg width="1040" height="330" viewBox="549 380 1040 330" style="display:block" font-family="DejaVu Sans, Liberation Sans, sans-serif">
<rect x="574.50" y="394.30" width="1010.90" height="288.00" fill="#ebebeb"/>
<line x1="574.50" x2="1585.40" y1="659.86" y2="659.86" stroke="#fff" stroke-opacity="0.75" stroke-width="0.4"/>
<line x1="574.50" x2="1585.40" y1="599.52" y2="599.52" stroke="#fff" stroke-opacity="0.75" stroke-width="0.4"/>
<line x1="574.50" x2="1585.40" y1="539.19" y2="539.19" stroke="#fff" stroke-opacity="0.75" stroke-width="0.4"/>
<line x1="574.50" x2="1585.40" y1="478.87" y2="478.87" stroke="#fff" stroke-opacity="0.75" stroke-width="0.4"/>
<line x1="574.50" x2="1585.40" y1="418.53" y2="418.53" stroke="#fff" stroke-opacity="0.75" stroke-width="0.4"/>
<line x1="828.85" x2="828.85" y1="394.30" y2="682.30" stroke="#fff" stroke-opacity="0.75" stroke-width="0.4"/>
<line x1="1135.35" x2="1135.35" y1="394.30" y2="682.30" stroke="#fff" stroke-opacity="0.75" stroke-width="0.4"/>
<line x1="1441.85" x2="1441.85" y1="394.30" y2="682.30" stroke="#fff" stroke-opacity="0.75" stroke-width="0.4"/>
<line x1="574.50" x2="1585.40" y1="629.69" y2="629.69" stroke="#fff" stroke-width="0.75"/>
<line x1="572.50" x2="574.50" y1="629.69" y2="629.69" stroke="#333" stroke-width="0.4"/>
<text x="570.90" y="631.69" font-size="5.50" text-anchor="end" fill="#444444" >75</text>
<line x1="574.50" x2="1585.40" y1="569.36" y2="569.36" stroke="#fff" stroke-width="0.75"/>
<line x1="572.50" x2="574.50" y1="569.36" y2="569.36" stroke="#333" stroke-width="0.4"/>
<text x="570.90" y="571.36" font-size="5.50" text-anchor="end" fill="#444444" >100</text>
<line x1="574.50" x2="1585.40" y1="509.03" y2="509.03" stroke="#fff" stroke-width="0.75"/>
<line x1="572.50" x2="574.50" y1="509.03" y2="509.03" stroke="#333" stroke-width="0.4"/>
<text x="570.90" y="511.03" font-size="5.50" text-anchor="end" fill="#444444" >125</text>
<line x1="574.50" x2="1585.40" y1="448.70" y2="448.70" stroke="#fff" stroke-width="0.75"/>
<line x1="572.50" x2="574.50" y1="448.70" y2="448.70" stroke="#333" stroke-width="0.4"/>
<text x="570.90" y="450.70" font-size="5.50" text-anchor="end" fill="#444444" >150</text>
<line x1="675.60" x2="675.60" y1="394.30" y2="682.30" stroke="#fff" stroke-width="0.75"/>
<line x1="675.60" x2="675.60" y1="682.30" y2="684.30" stroke="#333" stroke-width="0.4"/>
<text x="675.60" y="690.00" font-size="5.50" text-anchor="middle" fill="#444444" >2020</text>
<line x1="982.10" x2="982.10" y1="394.30" y2="682.30" stroke="#fff" stroke-width="0.75"/>
<line x1="982.10" x2="982.10" y1="682.30" y2="684.30" stroke="#333" stroke-width="0.4"/>
<text x="982.10" y="690.00" font-size="5.50" text-anchor="middle" fill="#444444" >2022</text>
<line x1="1288.60" x2="1288.60" y1="394.30" y2="682.30" stroke="#fff" stroke-width="0.75"/>
<line x1="1288.60" x2="1288.60" y1="682.30" y2="684.30" stroke="#333" stroke-width="0.4"/>
<text x="1288.60" y="690.00" font-size="5.50" text-anchor="middle" fill="#444444" >2024</text>
<path d="M620.4 538.8 L642.6 607.4 L696.5 669.2 L703.3 661.3 L795.3 572.0 L860.0 635.1 L918.7 436.6 L919.3 451.9 L920.4 441.7 L921.3 469.0 L922.2 458.8 L923.9 486.0 L925.1 462.2 L925.6 474.1 L926.9 488.6 L927.8 474.1 L929.3 460.8 L930.3 479.2 L931.5 489.4 L932.7 504.8 L934.1 482.6 L935.1 473.8 L936.1 491.1 L937.8 511.6 L938.9 515.8 L940.0 500.5 L941.8 517.6 L942.6 496.2 L944.0 472.1 L944.8 511.6 L945.7 486.0 L947.7 530.3 L949.4 497.1 L950.8 526.9 L951.6 513.3 L952.1 538.0 L952.8 551.6 L954.2 563.6 L955.4 569.5 L957.1 578.9 L959.6 588.3 L964.8 601.1 L969.0 609.2 L971.9 607.9 L972.9 602.8 L973.6 606.2 L975.0 608.7 L977.5 611.3 L979.2 616.7 L981.8 621.5 L985.2 626.6 L988.6 631.7 L991.7 635.1 L992.9 627.5 L994.2 635.5 L996.3 631.7 L997.1 624.9 L998.0 628.3 L999.7 597.6 L1000.5 613.8 L1001.4 599.3 L1002.2 606.2 L1004.0 598.5 L1005.3 587.4 L1006.5 603.6 L1007.9 601.9 L1008.7 579.8 L1009.9 601.1 L1011.1 568.7 L1012.5 596.8 L1013.3 578.0 L1015.5 597.6 L1017.2 549.9 L1018.8 590.8 L1020.1 580.6 L1021.3 592.5 L1022.7 560.2 L1024.1 584.9 L1025.3 548.2 L1027.0 573.8 L1029.0 546.5 L1030.4 566.1 L1031.6 538.0 L1032.9 552.5 L1033.8 511.6 L1035.8 533.7 L1036.8 509.9 L1038.0 501.4 L1038.9 513.3 L1039.7 483.5 L1041.4 486.0 L1042.0 506.5 L1043.1 436.6 L1044.5 487.7 L1045.4 435.8 L1047.4 476.7 L1048.6 434.9 L1050.3 469.8 L1051.3 419.6 L1053.4 445.1 L1054.7 413.6 L1056.3 459.6 L1057.3 411.0 L1059.3 448.5 L1060.2 407.6 L1061.9 445.1 L1063.1 418.7 L1063.6 430.6 L1071.3 423.8 L1070.9 445.1 L1071.8 413.6 L1072.5 424.7 L1073.3 412.7 L1073.8 453.6 L1075.5 443.4 L1076.7 460.5 L1078.1 435.8 L1079.8 462.2 L1081.8 431.5 L1082.7 456.2 L1083.7 434.9 L1085.4 472.4 L1086.6 448.5 L1088.3 470.7 L1089.5 445.1 L1090.9 453.6 L1100.2 521.8 L1107.6 520.1 L1108.1 514.1 L1109.3 532.0 L1110.5 532.9 L1111.3 538.0 L1113.0 548.2 L1115.1 560.2 L1117.8 569.5 L1119.8 569.5 L1120.7 572.9 L1123.2 580.6 L1128.4 590.8 L1135.2 602.8 L1142.0 613.0 L1148.8 621.5 L1153.9 626.6 L1159.9 628.3 L1164.1 633.4 L1169.3 638.5 L1172.0 641.1 L1173.7 642.0 L1175.4 636.8 L1177.1 639.4 L1178.8 630.0 L1179.3 620.7 L1180.5 633.4 L1181.4 617.2 L1182.2 606.2 L1182.7 627.5 L1183.9 603.6 L1184.8 583.2 L1186.0 585.7 L1187.3 611.3 L1188.5 621.5 L1189.9 597.6 L1190.7 616.4 L1192.1 580.6 L1193.3 555.0 L1194.2 565.3 L1195.3 538.0 L1195.5 520.1 L1196.4 514.1 L1197.2 532.0 L1198.1 526.9 L1199.3 538.0 L1200.1 510.7 L1201.3 530.3 L1202.3 511.6 L1203.5 533.7 L1204.4 513.3 L1206.1 492.0 L1206.9 520.1 L1207.8 483.5 L1209.5 486.9 L1210.3 496.2 L1211.5 467.3 L1212.4 496.2 L1213.4 457.9 L1215.5 481.8 L1216.0 453.6 L1218.0 474.1 L1218.5 450.2 L1219.7 434.9 L1220.9 456.2 L1221.8 434.9 L1222.6 445.1 L1223.5 434.9 L1223.8 469.0 L1224.8 445.1 L1226.0 449.4 L1226.5 469.8 L1232.5 485.2 L1234.2 481.8 L1235.1 482.6 L1235.9 497.1 L1237.1 491.1 L1238.5 502.2 L1240.2 483.5 L1241.4 505.6 L1242.2 490.3 L1244.9 530.3 L1246.1 530.3 L1247.0 535.4 L1247.8 538.0 L1248.7 546.5 L1249.5 543.1 L1250.7 560.2 L1251.8 546.5 L1252.9 553.3 L1254.1 546.5 L1255.2 565.3 L1256.0 555.0 L1257.7 539.7 L1258.6 558.4 L1259.4 574.6 L1260.6 576.3 L1262.3 586.6 L1263.2 574.6 L1264.9 590.8 L1266.2 577.2 L1267.9 592.5 L1270.0 600.2 L1272.5 609.6 L1274.2 612.5 L1276.0 613.8 L1279.4 620.7 L1284.5 630.0 L1291.3 638.5 L1298.1 645.4 L1304.9 651.7 L1311.7 656.8 L1316.9 659.5 L1321.1 659.8 L1322.8 657.3 L1323.7 659.0 L1324.9 645.7 L1326.2 654.7 L1327.4 653.9 L1328.8 658.1 L1330.5 648.8 L1331.3 647.1 L1332.5 657.3 L1333.9 642.0 L1334.7 648.8 L1335.3 640.2 L1336.5 623.2 L1337.6 633.4 L1339.9 601.1 L1341.6 625.8 L1342.9 590.8 L1344.1 579.8 L1344.6 589.1 L1345.5 566.1 L1346.2 548.2 L1347.5 572.1 L1348.4 538.0 L1348.7 524.4 L1349.6 530.3 L1350.9 518.4 L1352.3 511.6 L1353.0 525.2 L1354.3 497.1 L1356.0 530.3 L1357.4 494.5 L1359.1 522.7 L1360.8 475.8 L1362.0 509.9 L1364.1 467.3 L1365.4 494.5 L1366.6 465.6 L1368.0 487.7 L1369.2 461.3 L1370.9 491.1 L1372.2 466.4 L1373.9 485.2 L1374.8 462.2 L1376.5 486.9 L1377.4 474.1 L1378.5 471.5 L1379.9 487.7 L1381.1 478.4 L1382.0 489.4 L1383.3 506.5 L1384.2 503.1 L1385.9 520.1 L1386.7 516.7 L1388.4 528.6 L1389.3 523.5 L1391.0 538.0 L1391.8 543.1 L1394.4 540.6 L1396.1 538.0 L1397.8 544.8 L1400.4 563.6 L1401.7 549.9 L1402.9 561.0 L1404.6 539.7 L1406.3 559.3 L1407.2 546.5 L1408.9 569.5 L1410.1 549.9 L1411.8 572.9 L1413.1 561.9 L1414.8 578.0 L1416.2 558.4 L1417.9 587.4 L1419.4 572.9 L1420.8 590.8 L1422.5 593.4 L1423.4 592.5 L1424.2 599.3 L1425.9 609.6 L1428.5 618.9 L1431.9 627.5 L1435.3 631.7 L1439.6 638.5 L1444.0 644.5 L1445.6 644.5 L1449.3 648.4 L1451.6 645.9 L1454.1 645.4 L1457.5 651.3 L1461.8 657.3 L1465.2 660.7 L1467.7 662.1 L1469.1 659.8 L1470.0 651.3 L1470.8 652.2 L1471.7 659.0 L1473.2 662.4 L1474.9 655.6 L1475.9 659.8 L1477.6 649.6 L1478.8 660.7 L1480.5 659.8 L1481.9 645.4 L1482.7 653.9 L1484.8 635.1 L1485.6 647.1 L1487.7 603.6 L1488.7 632.6 L1490.7 609.6 L1491.6 618.1 L1493.3 581.5 L1494.2 612.1 L1496.4 563.6 L1497.6 583.2 L1499.8 546.5 L1500.5 578.0 L1502.2 538.0 L1501.5 524.4 L1502.7 538.0 L1504.4 508.2 L1505.6 538.0 L1506.4 507.3 L1508.1 505.6 L1509.0 537.1 L1510.3 494.5 L1511.7 526.1 L1513.2 486.9 L1514.6 520.1 L1516.0 491.1 L1517.5 524.4 L1519.2 482.6 L1520.6 507.3 L1521.4 489.4 L1522.3 511.6 L1523.5 478.4 L1524.0 511.6 L1524.5 466.4 L1526.5 511.6 L1527.7 484.3 L1529.4 519.3 L1531.3 490.3 L1532.5 516.7 L1533.7 499.7 L1535.1 515.0 L1536.2 506.5 L1538.0 514.1 L1538.5 536.3 L1539.7 514.1" fill="none" stroke="#000" stroke-width="0.9" stroke-linejoin="round" stroke-linecap="butt"/>
<text x="1080.20" y="389.00" font-size="7.80" text-anchor="middle" fill="#000" letter-spacing="0.42">390540N1220607W008</text>
<text x="1080.00" y="698.30" font-size="6.90" text-anchor="middle" fill="#000" >Date</text>
<text transform="translate(557.3 538.3) rotate(-90)" font-size="6.9" text-anchor="middle" fill="#000">DTW ft</text>
</svg>
</div>
</body>
</html>
